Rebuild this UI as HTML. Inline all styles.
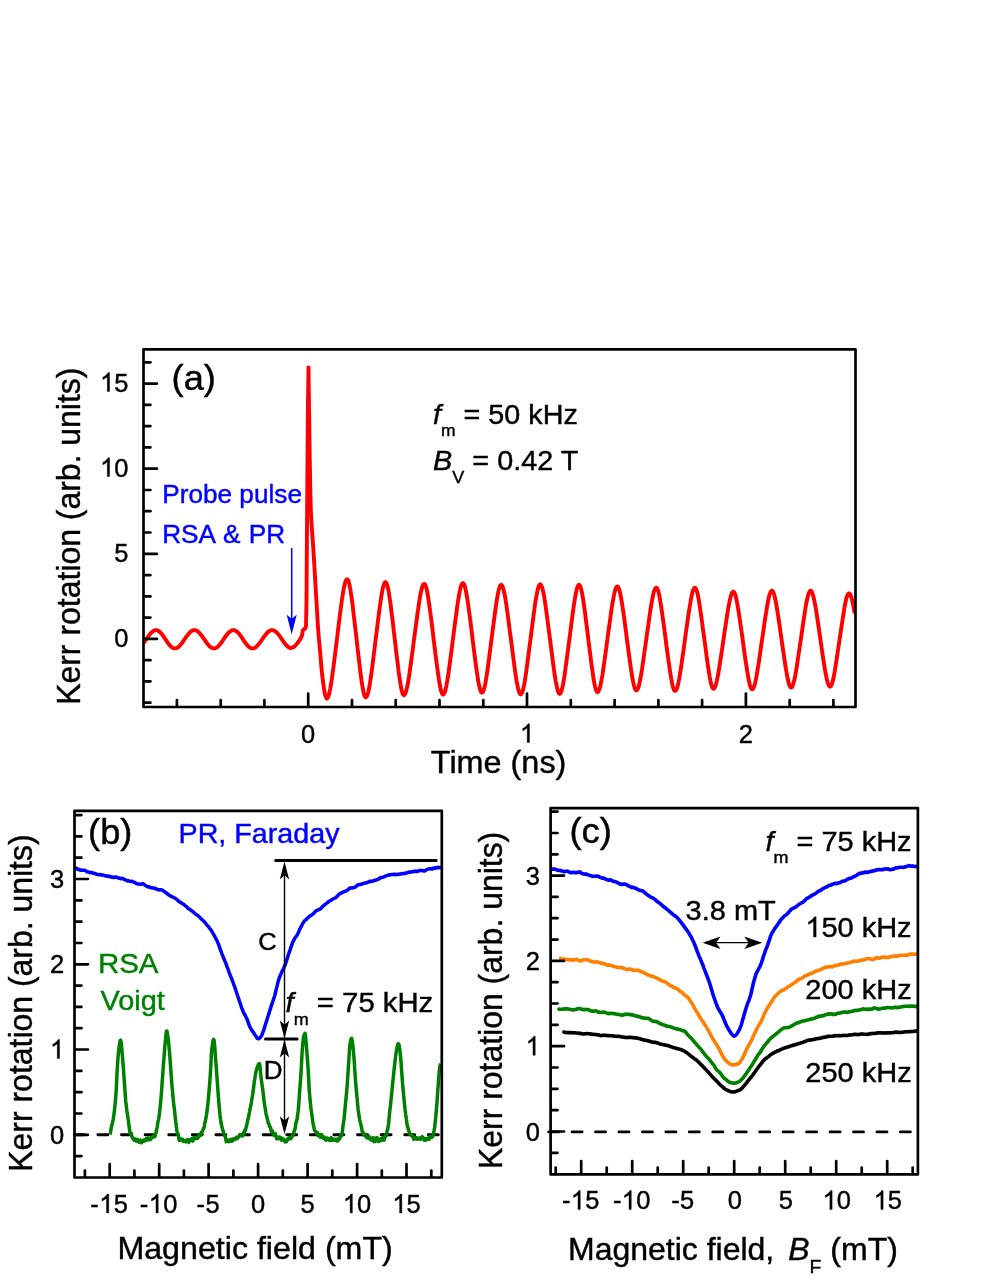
<!DOCTYPE html>
<html lang="en"><head><meta charset="utf-8"><title>Kerr rotation figure</title>
<style>html,body{margin:0;padding:0;background:#fff}body{width:992px;height:1283px;overflow:hidden;font-family:"Liberation Sans", sans-serif}svg text{font-family:"Liberation Sans", sans-serif;stroke-width:.42px}</style></head>
<body>
<svg width="992" height="1283" viewBox="0 0 992 1283" font-family='"Liberation Sans", sans-serif' style="display:block;will-change:transform">
<rect width="992" height="1283" fill="#fff"/>
<path d="M143.9 642.8 L144.7 641.6 L145.5 640.4 L146.3 639.2 L147.1 638.1 L147.9 636.9 L148.7 635.7 L149.5 634.7 L150.3 633.7 L151.2 632.8 L152 632 L152.8 631.3 L153.6 630.8 L154.4 630.4 L155.2 630.2 L156 630.1 L156.8 630.2 L157.6 630.4 L158.3 630.8 L159.1 631.3 L159.9 632 L160.7 632.8 L161.5 633.7 L162.3 634.7 L163.1 635.7 L163.8 636.9 L164.6 638.1 L165.4 639.2 L166.2 640.4 L167 641.6 L167.8 642.8 L168.5 643.8 L169.3 644.8 L170.1 645.7 L170.9 646.5 L171.7 647.2 L172.5 647.7 L173.2 648.1 L174 648.3 L174.8 648.4 L175.6 648.3 L176.4 648.1 L177.2 647.7 L178.1 647.2 L178.9 646.5 L179.7 645.7 L180.5 644.8 L181.3 643.8 L182.2 642.8 L183 641.6 L183.8 640.4 L184.6 639.2 L185.4 638.1 L186.2 636.9 L187.1 635.7 L187.9 634.7 L188.7 633.7 L189.5 632.8 L190.3 632 L191.1 631.3 L192 630.8 L192.8 630.4 L193.6 630.2 L194.4 630.1 L195.2 630.2 L196 630.4 L196.8 630.8 L197.7 631.3 L198.5 632 L199.3 632.8 L200.1 633.7 L200.9 634.7 L201.7 635.7 L202.5 636.9 L203.3 638.1 L204.2 639.2 L205 640.4 L205.8 641.6 L206.6 642.8 L207.4 643.8 L208.2 644.8 L209 645.7 L209.8 646.5 L210.7 647.2 L211.5 647.7 L212.3 648.1 L213.1 648.3 L213.9 648.4 L214.7 648.3 L215.5 648.1 L216.3 647.7 L217.2 647.2 L218 646.5 L218.8 645.7 L219.6 644.8 L220.4 643.8 L221.2 642.8 L222 641.6 L222.8 640.4 L223.7 639.2 L224.5 638.1 L225.3 636.9 L226.1 635.7 L226.9 634.7 L227.7 633.7 L228.5 632.8 L229.3 632 L230.2 631.3 L231 630.8 L231.8 630.4 L232.6 630.2 L233.4 630.1 L234.2 630.2 L235 630.4 L235.8 630.8 L236.6 631.3 L237.4 632 L238.2 632.8 L239 633.7 L239.8 634.7 L240.6 635.7 L241.4 636.9 L242.2 638.1 L242.9 639.2 L243.7 640.4 L244.5 641.6 L245.3 642.8 L246.1 643.8 L246.9 644.8 L247.7 645.7 L248.5 646.5 L249.3 647.2 L250.1 647.7 L250.9 648.1 L251.7 648.3 L252.5 648.4 L253.3 648.3 L254.1 648.1 L254.9 647.7 L255.8 647.2 L256.6 646.5 L257.4 645.7 L258.2 644.8 L259 643.8 L259.9 642.8 L260.7 641.6 L261.5 640.4 L262.3 639.2 L263.1 638.1 L263.9 636.9 L264.8 635.7 L265.6 634.7 L266.4 633.7 L267.2 632.8 L268 632 L268.8 631.3 L269.7 630.8 L270.5 630.4 L271.3 630.2 L272.1 630.1 L272.9 630.2 L273.7 630.4 L274.5 630.8 L275.3 631.3 L276.1 632 L277 632.8 L277.8 633.6 L278.6 634.6 L279.4 635.7 L280.2 636.8 L281 638 L281.8 639.2 L282.6 640.3 L283.4 641.5 L284.2 642.6 L285 643.7 L285.8 644.7 L286.6 645.5 L287.5 646.3 L288.3 647 L289.1 647.5 L289.9 647.9 L290.7 648.1 L294.5 646.6 L297.9 642.6 L300.5 638.6 L302 635.6 L302.8 630.4 L304 629.2 L305.4 628.4 L306 626 L306.5 600 L307.2 500 L307.9 410 L308.5 367.4 L308.8 391.9 L309.1 414.6 L309.4 435.8 L309.7 457.3 L310.1 477.6 L310.4 494.6 L310.7 506.5 L311 513.9 L311.3 519.8 L311.6 524.7 L311.9 528.9 L312.2 532.9 L312.5 537 L312.8 541.7 L313.2 546.6 L313.5 551.6 L313.8 556.6 L314.1 561.5 L314.4 566.5 L314.7 571.5 L315 576.6 L315.3 581.8 L315.6 587.1 L315.9 592.5 L316.3 598 L316.6 603.4 L316.9 608.8 L317.2 614 L317.5 619 L317.8 623.8 L318.1 628.4 L318.4 632.6 L318.7 636.4 L319 640.1 L319.4 643.6 L319.7 647 L320 650.4 L320.3 653.8 L320.6 657.4 L320.9 661.1 L321.2 664.7 L321.5 668.2 L321.8 671.4 L322.1 674.4 L322.5 677.2 L322.8 679.8 L323.1 682.3 L323.4 684.5 L323.7 686.7 L324 688.7 L324.3 690.7 L324.6 692.5 L324.9 694 L325.2 695.2 L325.6 696.1 L325.9 697 L326.2 697.7 L326.5 698.3 L326.8 698.6 L327.6 698 L328.5 696.1 L329.3 693.1 L330.2 689.1 L331 684.2 L331.9 678.6 L332.7 672.5 L333.6 666.1 L334.4 659.4 L335.3 652.6 L336.1 645.8 L337 638.9 L337.8 632 L338.6 625.2 L339.5 618.4 L340.3 611.7 L341.2 605.3 L342 599.2 L342.9 593.6 L343.7 588.7 L344.6 584.7 L345.4 581.7 L346.3 579.8 L347.1 579.2 L347.9 579.8 L348.7 581.6 L349.4 584.6 L350.2 588.6 L351 593.5 L351.8 599 L352.6 605 L353.3 611.4 L354.1 618 L354.9 624.7 L355.7 631.5 L356.5 638.3 L357.2 645.1 L358 651.9 L358.8 658.6 L359.6 665.2 L360.3 671.6 L361.1 677.6 L361.9 683.1 L362.7 688 L363.5 692 L364.2 695 L365 696.8 L365.8 697.4 L366.6 696.8 L367.4 695 L368.3 692.1 L369.1 688.2 L369.9 683.5 L370.7 678.1 L371.5 672.2 L372.4 666 L373.2 659.6 L374 653 L374.8 646.4 L375.6 639.8 L376.5 633.1 L377.3 626.5 L378.1 619.9 L378.9 613.5 L379.8 607.3 L380.6 601.4 L381.4 596 L382.2 591.3 L383 587.4 L383.9 584.5 L384.7 582.7 L385.5 582.1 L386.3 582.7 L387 584.4 L387.8 587.3 L388.6 591.1 L389.3 595.7 L390.1 601 L390.9 606.8 L391.6 612.9 L392.4 619.2 L393.2 625.6 L393.9 632.1 L394.7 638.6 L395.5 645.2 L396.2 651.7 L397 658.1 L397.8 664.4 L398.5 670.5 L399.3 676.3 L400.1 681.5 L400.8 686.2 L401.6 690 L402.4 692.9 L403.1 694.6 L403.9 695.2 L404.7 694.6 L405.6 692.9 L406.4 690.1 L407.3 686.3 L408.1 681.8 L409 676.5 L409.8 670.9 L410.7 664.9 L411.5 658.6 L412.4 652.3 L413.2 645.9 L414 639.5 L414.9 633.1 L415.7 626.7 L416.6 620.3 L417.4 614.1 L418.3 608.1 L419.1 602.4 L420 597.2 L420.8 592.7 L421.7 588.9 L422.5 586.1 L423.4 584.3 L424.2 583.8 L425 584.3 L425.8 586.1 L426.6 588.9 L427.4 592.6 L428.1 597.2 L428.9 602.3 L429.7 608 L430.5 613.9 L431.3 620.1 L432.1 626.4 L432.9 632.8 L433.6 639.2 L434.4 645.5 L435.2 651.9 L436 658.2 L436.8 664.4 L437.6 670.3 L438.4 676 L439.2 681.2 L439.9 685.7 L440.7 689.4 L441.5 692.2 L442.3 694 L443.1 694.6 L443.9 694 L444.8 692.2 L445.6 689.4 L446.4 685.6 L447.2 681.1 L448.1 675.9 L448.9 670.2 L449.7 664.2 L450.5 658 L451.4 651.6 L452.2 645.2 L453 638.8 L453.8 632.4 L454.6 626 L455.5 619.7 L456.3 613.5 L457.1 607.4 L457.9 601.8 L458.8 596.6 L459.6 592 L460.4 588.2 L461.2 585.4 L462.1 583.7 L462.9 583.1 L463.7 583.7 L464.5 585.4 L465.3 588.1 L466.1 591.8 L466.9 596.3 L467.7 601.5 L468.5 607 L469.3 612.9 L470.1 619.1 L470.9 625.3 L471.7 631.6 L472.4 637.9 L473.2 644.2 L474 650.5 L474.8 656.7 L475.6 662.8 L476.4 668.7 L477.2 674.3 L478 679.4 L478.8 683.9 L479.6 687.6 L480.4 690.4 L481.2 692.1 L482 692.7 L482.8 692.1 L483.6 690.4 L484.4 687.7 L485.2 684.1 L486 679.6 L486.8 674.6 L487.6 669.1 L488.4 663.3 L489.2 657.3 L490 651.1 L490.8 644.9 L491.6 638.7 L492.4 632.5 L493.2 626.3 L494 620.2 L494.8 614.2 L495.6 608.4 L496.4 602.9 L497.2 597.8 L498 593.4 L498.8 589.8 L499.6 587 L500.4 585.3 L501.2 584.8 L502 585.4 L502.8 587.1 L503.6 589.8 L504.4 593.5 L505.3 598 L506.1 603.2 L506.9 608.7 L507.7 614.6 L508.5 620.8 L509.3 627 L510.1 633.3 L511 639.6 L511.8 645.9 L512.6 652.2 L513.4 658.4 L514.2 664.5 L515 670.4 L515.8 676 L516.6 681.1 L517.5 685.6 L518.3 689.3 L519.1 692.1 L519.9 693.8 L520.7 694.4 L521.5 693.8 L522.3 692.1 L523.1 689.3 L524 685.6 L524.8 681.1 L525.6 675.9 L526.4 670.3 L527.2 664.4 L528 658.2 L528.8 652 L529.6 645.7 L530.5 639.3 L531.3 633 L532.1 626.7 L532.9 620.4 L533.7 614.3 L534.5 608.3 L535.3 602.7 L536.1 597.6 L537 593.1 L537.8 589.4 L538.6 586.6 L539.4 584.8 L540.2 584.3 L541 584.8 L541.8 586.6 L542.6 589.3 L543.5 593 L544.3 597.5 L545.1 602.6 L545.9 608.2 L546.7 614.1 L547.5 620.2 L548.3 626.5 L549.1 632.8 L550 639.1 L550.8 645.4 L551.6 651.7 L552.4 657.9 L553.2 664 L554 669.9 L554.8 675.5 L555.6 680.6 L556.5 685.1 L557.3 688.8 L558.1 691.6 L558.9 693.3 L559.7 693.9 L560.5 693.3 L561.3 691.6 L562.1 688.8 L562.9 685.1 L563.7 680.7 L564.5 675.6 L565.3 670 L566.1 664.1 L566.9 658.1 L567.7 651.9 L568.5 645.6 L569.4 639.3 L570.2 633 L571 626.8 L571.8 620.6 L572.6 614.5 L573.4 608.6 L574.2 603.1 L575 598 L575.8 593.5 L576.6 589.8 L577.4 587.1 L578.2 585.4 L579 584.8 L579.8 585.3 L580.5 587 L581.3 589.7 L582.1 593.4 L582.9 597.8 L583.6 602.8 L584.4 608.3 L585.2 614 L585.9 620 L586.7 626.1 L587.5 632.3 L588.2 638.5 L589 644.7 L589.8 650.8 L590.6 656.9 L591.3 662.9 L592.1 668.7 L592.9 674.2 L593.6 679.2 L594.4 683.6 L595.2 687.2 L596 689.9 L596.7 691.6 L597.5 692.2 L598.3 691.6 L599.1 690 L600 687.3 L600.8 683.7 L601.6 679.4 L602.5 674.5 L603.3 669.1 L604.1 663.4 L604.9 657.5 L605.8 651.5 L606.6 645.4 L607.4 639.3 L608.2 633.2 L609 627.2 L609.9 621.2 L610.7 615.3 L611.5 609.6 L612.3 604.2 L613.2 599.3 L614 594.9 L614.8 591.4 L615.6 588.7 L616.5 587 L617.3 586.5 L618.1 587 L618.9 588.7 L619.7 591.3 L620.5 594.8 L621.3 599.1 L622.1 603.9 L622.9 609.2 L623.7 614.8 L624.5 620.6 L625.3 626.5 L626.1 632.5 L626.8 638.5 L627.6 644.5 L628.4 650.4 L629.2 656.3 L630 662.1 L630.8 667.7 L631.6 673 L632.4 677.9 L633.2 682.2 L634 685.7 L634.8 688.3 L635.6 689.9 L636.4 690.5 L637.2 689.9 L638 688.3 L638.9 685.7 L639.7 682.2 L640.5 678 L641.4 673.2 L642.2 668 L643 662.5 L643.8 656.7 L644.6 650.9 L645.5 645 L646.3 639.1 L647.1 633.2 L648 627.3 L648.8 621.4 L649.6 615.7 L650.4 610.1 L651.2 604.9 L652.1 600.1 L652.9 595.9 L653.7 592.4 L654.6 589.8 L655.4 588.2 L656.2 587.7 L657 588.2 L657.8 589.8 L658.6 592.4 L659.4 595.9 L660.1 600.2 L660.9 605 L661.7 610.3 L662.5 615.8 L663.3 621.6 L664.1 627.5 L664.9 633.4 L665.7 639.3 L666.4 645.3 L667.2 651.2 L668 657.1 L668.8 662.8 L669.6 668.4 L670.4 673.7 L671.2 678.5 L672 682.7 L672.7 686.2 L673.5 688.8 L674.3 690.4 L675.1 691 L675.9 690.4 L676.8 688.8 L677.6 686.2 L678.4 682.7 L679.2 678.5 L680 673.7 L680.9 668.4 L681.7 662.8 L682.5 657.1 L683.4 651.2 L684.2 645.3 L685 639.3 L685.8 633.4 L686.6 627.5 L687.5 621.6 L688.3 615.8 L689.1 610.3 L690 605 L690.8 600.2 L691.6 595.9 L692.4 592.4 L693.2 589.8 L694.1 588.2 L694.9 587.7 L695.7 588.2 L696.4 589.8 L697.2 592.3 L698 595.8 L698.8 599.9 L699.5 604.6 L700.3 609.8 L701.1 615.2 L701.9 620.9 L702.6 626.6 L703.4 632.4 L704.2 638.2 L705 644 L705.8 649.8 L706.5 655.6 L707.3 661.2 L708.1 666.7 L708.9 671.8 L709.6 676.5 L710.4 680.7 L711.2 684.1 L712 686.7 L712.7 688.2 L713.5 688.8 L714.3 688.3 L715.1 686.7 L716 684.3 L716.8 681 L717.6 677 L718.5 672.5 L719.3 667.5 L720.1 662.3 L720.9 656.9 L721.8 651.3 L722.6 645.8 L723.4 640.2 L724.2 634.6 L725 629 L725.9 623.5 L726.7 618.1 L727.5 612.8 L728.3 607.9 L729.2 603.3 L730 599.4 L730.8 596.1 L731.6 593.6 L732.5 592.1 L733.3 591.6 L734.1 592.1 L734.9 593.6 L735.7 596.1 L736.4 599.4 L737.2 603.4 L738 608 L738.8 612.9 L739.6 618.2 L740.4 623.7 L741.2 629.2 L742 634.8 L742.8 640.4 L743.5 646.1 L744.3 651.7 L745.1 657.2 L745.9 662.7 L746.7 667.9 L747.5 672.9 L748.3 677.5 L749.1 681.5 L749.8 684.8 L750.6 687.2 L751.4 688.8 L752.2 689.3 L753 688.8 L753.8 687.2 L754.7 684.7 L755.5 681.4 L756.3 677.3 L757.1 672.7 L757.9 667.7 L758.8 662.4 L759.6 656.9 L760.4 651.3 L761.2 645.6 L762 639.9 L762.9 634.2 L763.7 628.6 L764.5 623 L765.3 617.5 L766.2 612.1 L767 607.1 L767.8 602.5 L768.6 598.5 L769.4 595.1 L770.3 592.6 L771.1 591.1 L771.9 590.6 L772.7 591.1 L773.5 592.6 L774.3 595 L775.1 598.3 L775.9 602.3 L776.7 606.8 L777.5 611.8 L778.3 617 L779.1 622.4 L779.9 627.9 L780.7 633.5 L781.5 639.1 L782.3 644.7 L783.1 650.2 L783.9 655.7 L784.7 661.1 L785.5 666.4 L786.3 671.3 L787.1 675.8 L787.9 679.8 L788.7 683.1 L789.5 685.5 L790.3 687.1 L791.1 687.6 L791.9 687.1 L792.7 685.5 L793.5 683.1 L794.4 679.8 L795.2 675.8 L796 671.3 L796.8 666.4 L797.6 661.1 L798.4 655.7 L799.2 650.2 L800 644.7 L800.9 639.1 L801.7 633.5 L802.5 627.9 L803.3 622.4 L804.1 617 L804.9 611.8 L805.7 606.8 L806.5 602.3 L807.4 598.3 L808.2 595 L809 592.6 L809.8 591.1 L810.6 590.6 L811.4 591.1 L812.2 592.6 L813 595 L813.8 598.3 L814.6 602.2 L815.5 606.7 L816.3 611.6 L817.1 616.8 L817.9 622.1 L818.7 627.6 L819.5 633.1 L820.3 638.6 L821.1 644.2 L821.9 649.7 L822.7 655.2 L823.5 660.5 L824.3 665.7 L825.1 670.6 L826 675.1 L826.8 679 L827.6 682.3 L828.4 684.7 L829.2 686.2 L830 686.7 L830.8 686.2 L831.6 684.8 L832.4 682.4 L833.2 679.3 L834 675.4 L834.8 671.1 L835.5 666.3 L836.3 661.3 L837.1 656.1 L837.9 650.7 L838.7 645.4 L839.5 640 L840.3 634.6 L841.1 629.3 L841.9 624 L842.7 618.7 L843.5 613.7 L844.2 609 L845 604.6 L845.8 600.8 L846.6 597.6 L847.4 595.2 L848.2 593.8 L849 593.3 L849.8 593.8 L850.6 595.2 L851.4 597.5 L852.2 600.6 L853 604.4 L853.8 608.6 L854.6 613.3" fill="none" stroke="#ff0000" stroke-width="3.9" stroke-linejoin="round" stroke-linecap="butt"/>
<line x1="144.4" y1="702.7" x2="150.4" y2="702.7" stroke="#000" stroke-width="2.7" stroke-linecap="round"/>
<line x1="144.4" y1="681.4" x2="150.4" y2="681.4" stroke="#000" stroke-width="2.7" stroke-linecap="round"/>
<line x1="144.4" y1="660.2" x2="150.4" y2="660.2" stroke="#000" stroke-width="2.7" stroke-linecap="round"/>
<line x1="144.4" y1="638.9" x2="156.9" y2="638.9" stroke="#000" stroke-width="2.7" stroke-linecap="round"/>
<line x1="144.4" y1="617.6" x2="150.4" y2="617.6" stroke="#000" stroke-width="2.7" stroke-linecap="round"/>
<line x1="144.4" y1="596.4" x2="150.4" y2="596.4" stroke="#000" stroke-width="2.7" stroke-linecap="round"/>
<line x1="144.4" y1="575.1" x2="150.4" y2="575.1" stroke="#000" stroke-width="2.7" stroke-linecap="round"/>
<line x1="144.4" y1="553.8" x2="156.9" y2="553.8" stroke="#000" stroke-width="2.7" stroke-linecap="round"/>
<line x1="144.4" y1="532.5" x2="150.4" y2="532.5" stroke="#000" stroke-width="2.7" stroke-linecap="round"/>
<line x1="144.4" y1="511.2" x2="150.4" y2="511.2" stroke="#000" stroke-width="2.7" stroke-linecap="round"/>
<line x1="144.4" y1="490" x2="150.4" y2="490" stroke="#000" stroke-width="2.7" stroke-linecap="round"/>
<line x1="144.4" y1="468.7" x2="156.9" y2="468.7" stroke="#000" stroke-width="2.7" stroke-linecap="round"/>
<line x1="144.4" y1="447.4" x2="150.4" y2="447.4" stroke="#000" stroke-width="2.7" stroke-linecap="round"/>
<line x1="144.4" y1="426.1" x2="150.4" y2="426.1" stroke="#000" stroke-width="2.7" stroke-linecap="round"/>
<line x1="144.4" y1="404.9" x2="150.4" y2="404.9" stroke="#000" stroke-width="2.7" stroke-linecap="round"/>
<line x1="144.4" y1="383.6" x2="156.9" y2="383.6" stroke="#000" stroke-width="2.7" stroke-linecap="round"/>
<line x1="144.4" y1="362.3" x2="150.4" y2="362.3" stroke="#000" stroke-width="2.7" stroke-linecap="round"/>
<line x1="176.9" y1="706.1" x2="176.9" y2="700.1" stroke="#000" stroke-width="2.7" stroke-linecap="round"/>
<line x1="220.7" y1="706.1" x2="220.7" y2="700.1" stroke="#000" stroke-width="2.7" stroke-linecap="round"/>
<line x1="264.4" y1="706.1" x2="264.4" y2="700.1" stroke="#000" stroke-width="2.7" stroke-linecap="round"/>
<line x1="308.2" y1="706.1" x2="308.2" y2="693.6" stroke="#000" stroke-width="2.7" stroke-linecap="round"/>
<line x1="352" y1="706.1" x2="352" y2="700.1" stroke="#000" stroke-width="2.7" stroke-linecap="round"/>
<line x1="395.7" y1="706.1" x2="395.7" y2="700.1" stroke="#000" stroke-width="2.7" stroke-linecap="round"/>
<line x1="439.5" y1="706.1" x2="439.5" y2="700.1" stroke="#000" stroke-width="2.7" stroke-linecap="round"/>
<line x1="483.3" y1="706.1" x2="483.3" y2="700.1" stroke="#000" stroke-width="2.7" stroke-linecap="round"/>
<line x1="527" y1="706.1" x2="527" y2="693.6" stroke="#000" stroke-width="2.7" stroke-linecap="round"/>
<line x1="570.8" y1="706.1" x2="570.8" y2="700.1" stroke="#000" stroke-width="2.7" stroke-linecap="round"/>
<line x1="614.6" y1="706.1" x2="614.6" y2="700.1" stroke="#000" stroke-width="2.7" stroke-linecap="round"/>
<line x1="658.4" y1="706.1" x2="658.4" y2="700.1" stroke="#000" stroke-width="2.7" stroke-linecap="round"/>
<line x1="702.1" y1="706.1" x2="702.1" y2="700.1" stroke="#000" stroke-width="2.7" stroke-linecap="round"/>
<line x1="745.9" y1="706.1" x2="745.9" y2="693.6" stroke="#000" stroke-width="2.7" stroke-linecap="round"/>
<line x1="789.7" y1="706.1" x2="789.7" y2="700.1" stroke="#000" stroke-width="2.7" stroke-linecap="round"/>
<line x1="833.4" y1="706.1" x2="833.4" y2="700.1" stroke="#000" stroke-width="2.7" stroke-linecap="round"/>
<rect x="143.5" y="349.4" width="712" height="357.6" fill="none" stroke="#000" stroke-width="2.7" stroke-linejoin="round"/>
<text transform="translate(114.2 646.8) scale(0.97 1)" font-size="26.29" stroke="#000">0</text>
<text transform="translate(114.2 561.7) scale(0.97 1)" font-size="26.29" stroke="#000">5</text>
<path transform="translate(100.04 476.6) scale(0.01245 -0.01284)" d="M763 0L583 0L583 1147Q518 1085 412.5 1023Q307 961 223 930L223 1104Q374 1175 487 1276Q600 1377 647 1472L763 1472Z" stroke="#000" stroke-width="33"/>
<text transform="translate(114.2 476.6) scale(0.97 1)" font-size="26.29" stroke="#000">0</text>
<path transform="translate(100.04 391.5) scale(0.01245 -0.01284)" d="M763 0L583 0L583 1147Q518 1085 412.5 1023Q307 961 223 930L223 1104Q374 1175 487 1276Q600 1377 647 1472L763 1472Z" stroke="#000" stroke-width="33"/>
<text transform="translate(114.2 391.5) scale(0.97 1)" font-size="26.29" stroke="#000">5</text>
<text transform="translate(301.1 742.6) scale(0.97 1)" font-size="26.29" stroke="#000">0</text>
<path transform="translate(519.96 742.6) scale(0.01245 -0.01284)" d="M763 0L583 0L583 1147Q518 1085 412.5 1023Q307 961 223 930L223 1104Q374 1175 487 1276Q600 1377 647 1472L763 1472Z" stroke="#000" stroke-width="33"/>
<text transform="translate(738.8 742.6) scale(0.97 1)" font-size="26.29" stroke="#000">2</text>
<text transform="translate(498.6 773.1) scale(1.035 1)" font-size="31.30" text-anchor="middle" fill="#000" stroke="#000">Time (ns)</text>
<text transform="translate(80.4 536.2) rotate(-90) scale(0.954 1)" font-size="33.5" text-anchor="middle" stroke="#000">Kerr rotation (arb. units)</text>
<text transform="translate(171.6 389.9) scale(1.05 1)" font-size="34.48" text-anchor="start" fill="#000" stroke="#000">(a)</text>
<text transform="translate(162.2 503.2) scale(1.035 1)" font-size="25.31" text-anchor="start" fill="#0000ff" stroke="#0000ff">Probe pulse</text>
<text transform="translate(162.2 543.3) scale(1.035 1)" font-size="25.31" text-anchor="start" fill="#0000ff" stroke="#0000ff" word-spacing="1">RSA &amp; PR</text>
<line x1="291.7" y1="548" x2="291.7" y2="620" stroke="#0000ff" stroke-width="1.5"/>
<polygon points="291.7,634.4 286.7,614.8 291.7,618.8 296.7,614.8" fill="#0000ff"/>
<text transform="translate(433 424) scale(1.035 1)" font-size="27.78" stroke="#000"><tspan font-style="italic">f</tspan><tspan font-size="16.9" dy="12.3">m</tspan><tspan dy="-12.3"> = 50 kHz</tspan></text>
<text transform="translate(433.1 470.2) scale(1.035 1)" font-size="27.83" stroke="#000"><tspan font-style="italic">B</tspan><tspan font-size="17.4" dy="12.4">V</tspan><tspan dy="-12.4"> = 0.42 T</tspan></text>
<path d="M74.3 1134.8 H441" stroke="#000" stroke-width="2.9" stroke-linecap="round" stroke-dasharray="10 13.6" fill="none"/>
<path d="M75 867.3 L75.7 867.8 L76.5 868.4 L77.2 869 L77.9 869.4 L78.7 869.2 L79.4 869.6 L80.1 870.2 L80.9 870.1 L81.6 870.3 L82.3 870.1 L83.1 870.3 L83.8 870.2 L84.5 870.2 L85.3 870.5 L86 870.9 L86.8 871.5 L87.5 872 L88.2 872 L89 872.1 L89.7 872.6 L90.4 872.7 L91.2 872.5 L91.9 872.5 L92.6 873 L93.4 873.1 L94.1 873.4 L94.8 873.4 L95.6 873.8 L96.3 874.2 L97 874.4 L97.8 874.7 L98.5 874.5 L99.2 874.8 L100 874.6 L100.7 874.6 L101.4 875.1 L102.2 874.9 L102.9 875.1 L103.6 875.2 L104.4 875.4 L105.1 876 L105.8 875.9 L106.6 876.1 L107.3 876 L108.1 876.3 L108.8 876.5 L109.5 876.3 L110.3 876.3 L111 876.8 L111.7 877.3 L112.5 877.1 L113.2 877.4 L113.9 877.3 L114.7 877.5 L115.4 877.2 L116.1 877 L116.9 877.2 L117.6 877.6 L118.3 878.1 L119.1 878 L119.8 878.2 L120.5 878.7 L121.3 878.5 L122 878.4 L122.7 878.3 L123.5 879.1 L124.2 879.6 L124.9 879.6 L125.7 880.1 L126.4 880.4 L127.1 880.9 L127.9 880.8 L128.6 880.8 L129.4 881.1 L130.1 881.4 L130.8 881.6 L131.6 881.2 L132.3 881.5 L133 881.7 L133.8 882.1 L134.5 882.4 L135.2 882.7 L136 883.3 L136.7 883.4 L137.4 884 L138.2 883.9 L138.9 884.1 L139.6 884.1 L140.4 884.3 L141.1 884.2 L141.8 883.8 L142.6 883.9 L143.3 883.8 L144 884.4 L144.8 885 L145.5 885.4 L146.2 886 L147 886.3 L147.7 886.8 L148.4 887 L149.2 886.7 L149.9 887.3 L150.7 887.7 L151.4 887.7 L152.1 887.8 L152.9 888.1 L153.6 888.1 L154.3 888.2 L155.1 888.2 L155.8 888.8 L156.5 889.1 L157.3 889.3 L158 889.7 L158.7 889.8 L159.5 889.9 L160.2 889.7 L160.9 890 L161.7 889.8 L162.4 890.4 L163.1 890.4 L163.9 891.3 L164.6 891.7 L165.3 892.2 L166.1 893 L166.8 893 L167.5 894 L168.3 894.5 L169 895.1 L169.7 895.4 L170.5 895.8 L171.2 896.4 L171.9 896.8 L172.7 896.9 L173.4 897.4 L174.2 897.8 L174.9 898.2 L175.6 898.6 L176.4 899.2 L177.1 899.7 L177.8 900.4 L178.6 901.1 L179.3 901.6 L180 902.3 L180.8 902.5 L181.5 903.1 L182.2 903.4 L183 903.9 L183.7 904.3 L184.4 904.8 L185.2 905.8 L185.9 906.2 L186.6 906.7 L187.4 907.4 L188.1 908.4 L188.8 908.9 L189.6 909.2 L190.3 909.8 L191 910.2 L191.8 910.9 L192.5 911.2 L193.2 912.1 L194 912.5 L194.7 913.3 L195.5 914.1 L196.2 914.5 L196.9 914.9 L197.7 915.3 L198.4 916.3 L199.1 916.7 L199.9 917.5 L200.6 918.2 L201.3 918.9 L202.1 919.7 L202.8 920.3 L203.5 921 L204.3 921.7 L205 922.5 L205.7 923.5 L206.5 924.5 L207.2 925.3 L207.9 926.1 L208.7 926.9 L209.4 928 L210.1 928.9 L210.9 929.8 L211.6 930.9 L212.3 932.2 L213.1 933.6 L213.8 934.8 L214.5 935.9 L215.3 937.5 L216 938.8 L216.8 940.3 L217.5 941.9 L218.2 943.6 L219 945.6 L219.7 947.6 L220.4 949.8 L221.2 951.7 L221.9 953.8 L222.6 955.6 L223.4 957.3 L224.1 959.1 L224.8 960.9 L225.6 962.7 L226.3 964.5 L227 966.6 L227.8 968.6 L228.5 970.5 L229.2 972.6 L230 974.6 L230.7 976.5 L231.4 978.3 L232.2 980.1 L232.9 982 L233.6 984 L234.4 986.1 L235.1 988.1 L235.8 990.2 L236.6 992.5 L237.3 994.7 L238.1 997 L238.8 999.1 L239.5 1001.3 L240.3 1003.5 L241 1005.8 L241.7 1007.8 L242.5 1009.8 L243.2 1011.6 L243.9 1013.2 L244.7 1014.5 L245.4 1015.6 L246.1 1017.2 L246.9 1018.7 L247.6 1020.6 L248.3 1022.6 L249.1 1024.9 L249.8 1026.8 L250.5 1028.2 L251.3 1029.5 L252 1030.6 L252.7 1031.5 L253.5 1032.4 L254.2 1033.6 L254.9 1034.9 L255.7 1035.8 L256.4 1036.7 L257.1 1038.1 L257.9 1038.8 L258.6 1038.7 L259.4 1038.2 L260.1 1037.6 L260.8 1036.9 L261.6 1035.6 L262.3 1034.1 L263 1032 L263.8 1029.8 L264.5 1027.6 L265.2 1025.3 L266 1022.9 L266.7 1020.6 L267.4 1018.3 L268.2 1015.8 L268.9 1013.6 L269.6 1011.3 L270.4 1008.9 L271.1 1006.6 L271.8 1004.3 L272.6 1002.1 L273.3 1000 L274 997.8 L274.8 995.5 L275.5 992.5 L276.2 989.4 L277 986.4 L277.7 983.4 L278.4 980.6 L279.2 978.2 L279.9 976.3 L280.7 974.5 L281.4 972.9 L282.1 971.2 L282.9 969.9 L283.6 968.6 L284.3 966.8 L285.1 964.9 L285.8 962.8 L286.5 960.7 L287.3 958.4 L288 956.1 L288.7 953.8 L289.5 951.7 L290.2 949.6 L290.9 947.4 L291.7 945.2 L292.4 943.2 L293.1 941.5 L293.9 939.9 L294.6 938.6 L295.3 937.5 L296.1 936.5 L296.8 935.5 L297.5 934.3 L298.3 932.8 L299 931.1 L299.7 929.4 L300.5 927.9 L301.2 926.3 L302 924.9 L302.7 923.6 L303.4 922.6 L304.2 921.5 L304.9 920.5 L305.6 920.1 L306.4 919.3 L307.1 918.6 L307.8 917.8 L308.6 917.3 L309.3 916.4 L310 915.7 L310.8 915.6 L311.5 915.1 L312.2 914.5 L313 913.8 L313.7 913.4 L314.4 912.6 L315.2 911.4 L315.9 911.1 L316.6 910.4 L317.4 910.2 L318.1 909.9 L318.8 909.6 L319.6 909.3 L320.3 908.8 L321 908.4 L321.8 907.5 L322.5 906.5 L323.3 905.9 L324 905.5 L324.7 904.7 L325.5 904.1 L326.2 903.5 L326.9 903.1 L327.7 902.6 L328.4 901.8 L329.1 901.1 L329.9 900.9 L330.6 900.5 L331.3 900.1 L332.1 899.6 L332.8 899.1 L333.5 898.6 L334.3 898.4 L335 898.1 L335.7 897.7 L336.5 896.8 L337.2 896.4 L337.9 895.5 L338.7 894.4 L339.4 894 L340.1 893.6 L340.9 893.5 L341.6 892.6 L342.3 892.5 L343.1 892.2 L343.8 891.7 L344.6 891.6 L345.3 891.2 L346 891 L346.8 890.5 L347.5 890.2 L348.2 889.7 L349 888.6 L349.7 888.3 L350.4 887.8 L351.2 888 L351.9 887.9 L352.6 887.8 L353.4 887.7 L354.1 887.5 L354.8 887.4 L355.6 886.8 L356.3 886.2 L357 885.5 L357.8 885 L358.5 884.8 L359.2 884.5 L360 884.4 L360.7 884.4 L361.4 884.1 L362.2 884 L362.9 883.6 L363.6 883.5 L364.4 883.1 L365.1 882.9 L365.8 883.1 L366.6 882.8 L367.3 882.3 L368.1 882.1 L368.8 882.1 L369.5 881.2 L370.3 881.2 L371 881.4 L371.7 881.6 L372.5 881.1 L373.2 880.7 L373.9 880.6 L374.7 880.7 L375.4 880.2 L376.1 880 L376.9 879.7 L377.6 879.6 L378.3 879.2 L379.1 878.4 L379.8 878.4 L380.5 877.5 L381.3 877.6 L382 877.4 L382.7 877.3 L383.5 877.1 L384.2 876.6 L384.9 876.6 L385.7 876.1 L386.4 875.6 L387.1 875.6 L387.9 875.3 L388.6 874.9 L389.4 874.8 L390.1 874.9 L390.8 874.6 L391.6 874.6 L392.3 874.5 L393 874.5 L393.8 874.5 L394.5 874.1 L395.2 874.7 L396 874.4 L396.7 874.6 L397.4 874.6 L398.2 874.2 L398.9 874.3 L399.6 873.9 L400.4 874.1 L401.1 873.9 L401.8 873.7 L402.6 873.7 L403.3 873.5 L404 873.7 L404.8 873.3 L405.5 873.2 L406.2 873 L407 873 L407.7 872.7 L408.4 872 L409.2 872.1 L409.9 872.2 L410.7 872.2 L411.4 871.7 L412.1 871.7 L412.9 871.7 L413.6 871.7 L414.3 871.1 L415.1 871.2 L415.8 871.4 L416.5 871.3 L417.3 871.5 L418 871.1 L418.7 870.9 L419.5 870.5 L420.2 870.7 L420.9 870.6 L421.7 870.5 L422.4 870.5 L423.1 870.7 L423.9 871 L424.6 870.9 L425.3 870.6 L426.1 870 L426.8 869.7 L427.5 869.2 L428.3 869.2 L429 868.9 L429.7 868.8 L430.5 868.7 L431.2 868.7 L432 869.2 L432.7 868.3 L433.4 868.1 L434.2 867.9 L434.9 868.4 L435.6 868.1 L436.4 867.6 L437.1 867.8 L437.8 867.3 L438.6 867.7 L439.3 867.6 L440 867.6 L440.8 867.4 L441.5 867.2" fill="none" stroke="#0000ff" stroke-width="3.5" stroke-linejoin="round"/>
<path d="M110.1 1134.5 L110.4 1133.3 L110.7 1131.1 L111 1129.1 L111.3 1127.6 L111.6 1126.3 L111.9 1125 L112.2 1123.5 L112.5 1122.7 L112.8 1121.2 L113.1 1120.1 L113.4 1118.1 L113.7 1116.1 L114 1113.7 L114.3 1111.4 L114.6 1108.9 L114.9 1106.3 L115.2 1103.2 L115.5 1099.7 L115.8 1095.9 L116.1 1091.8 L116.4 1087 L116.7 1080.4 L117 1073.7 L117.3 1068.5 L117.6 1063.7 L117.9 1059.4 L118.2 1055.3 L118.5 1051.9 L118.8 1049.2 L119.1 1046.9 L119.4 1044.7 L119.7 1043 L120 1041.4 L120.3 1040.5 L120.6 1040.2 L120.9 1041.1 L121.2 1042.8 L121.5 1045.5 L121.8 1048.6 L122.1 1052.3 L122.4 1056 L122.7 1059.8 L123 1063.3 L123.3 1067.2 L123.6 1071.3 L123.9 1075.6 L124.2 1080 L124.5 1084.2 L124.8 1088.3 L125.1 1092.7 L125.4 1096.8 L125.7 1100.7 L126 1103.6 L126.3 1106.1 L126.6 1108.6 L126.9 1111 L127.2 1113.1 L127.5 1115 L127.8 1116.7 L128.1 1119 L128.4 1120.5 L128.7 1123.3 L129 1125.6 L129.3 1127.9 L129.6 1129.9 L129.9 1132.3 L130.2 1133.5 L130.5 1133.5 L130.9 1133 L131.2 1133.5 L131.5 1134.6 L131.8 1136.1 L132.1 1137.1 L132.4 1137.9 L132.7 1137.8 L133 1138.1 L133.3 1138.3 L133.6 1139.3 L133.9 1140.1 L134.2 1140.2 L134.5 1140 L134.8 1139.9 L135.1 1139.4 L135.4 1139 L135.7 1139.3 L136 1140 L136.3 1141.1 L136.6 1140.2 L136.9 1140.2 L137.2 1139.9 L137.5 1140.4 L137.8 1139.6 L138.1 1139.8 L138.4 1140.7 L138.7 1142.1 L139 1141.9 L139.3 1141.5 L139.6 1141.6 L139.9 1140.5 L140.2 1140.4 L140.5 1140.2 L140.8 1141.8 L141.1 1142.6 L141.4 1142.7 L141.7 1142.4 L142 1141.6 L142.3 1141.2 L142.6 1140.7 L142.9 1140.4 L143.2 1140.3 L143.5 1141.4 L143.8 1141.2 L144.1 1140.6 L144.4 1139.7 L144.7 1140.3 L145 1140.3 L145.3 1140.8 L145.6 1139.6 L145.9 1139.5 L146.2 1138.6 L146.5 1139.5 L146.8 1140 L147.1 1139.3 L147.4 1138.5 L147.7 1138.1 L148 1138.4 L148.3 1138.1 L148.6 1138.4 L148.9 1138.9 L149.2 1139.9 L149.5 1139.1 L149.8 1139.3 L150.1 1138.8 L150.4 1139.5 L150.7 1138.5 L151 1138.1 L151.3 1137.5 L151.6 1137.4 L151.9 1137.9 L152.2 1137.7 L152.5 1137.3 L152.8 1136.7 L153.1 1136.1 L153.4 1136.6 L153.7 1135.9 L154 1135.4 L154.3 1135.1 L154.6 1136 L154.9 1136.6 L155.2 1135.5 L155.5 1133.9 L155.8 1133.1 L156.1 1132.2 L156.4 1130.7 L156.7 1128.9 L157 1127.9 L157.3 1126.5 L157.6 1124.3 L157.9 1122.1 L158.2 1121 L158.5 1119.6 L158.8 1118 L159.1 1115.8 L159.4 1113.8 L159.7 1111.3 L160 1108.7 L160.3 1105.7 L160.6 1102.7 L160.9 1099.4 L161.2 1095.9 L161.5 1091.9 L161.8 1087.6 L162.1 1083.1 L162.4 1078.9 L162.7 1075 L163 1070.7 L163.3 1066.5 L163.6 1062.4 L163.9 1058.9 L164.2 1055.1 L164.5 1051 L164.8 1046.8 L165.1 1043.4 L165.4 1040.3 L165.7 1037.2 L166 1034.1 L166.3 1031.9 L166.6 1030.9 L166.9 1030.9 L167.2 1032.1 L167.5 1033.8 L167.8 1036 L168.1 1038.4 L168.4 1040.7 L168.7 1043.7 L169 1046.6 L169.3 1050 L169.6 1053.2 L169.9 1057 L170.2 1061.1 L170.5 1065.5 L170.8 1069.7 L171.1 1074 L171.4 1078.2 L171.7 1082.4 L172 1086.2 L172.4 1090.2 L172.7 1093.6 L173 1097.2 L173.3 1100.2 L173.6 1103.1 L173.9 1105.5 L174.2 1107.8 L174.5 1110.2 L174.8 1113 L175.1 1116 L175.4 1118.5 L175.7 1121.5 L176 1123.5 L176.3 1126.7 L176.6 1128.6 L176.9 1130.8 L177.2 1132 L177.5 1133 L177.8 1133.9 L178.1 1134.1 L178.4 1135.2 L178.7 1137.1 L179 1139.4 L179.3 1140.4 L179.6 1140.1 L179.9 1139.1 L180.2 1139.4 L180.5 1139.3 L180.8 1139.8 L181.1 1139.1 L181.4 1139.4 L181.7 1139.4 L182 1139.7 L182.3 1139.2 L182.6 1139.4 L182.9 1140.7 L183.2 1141.3 L183.5 1141.5 L183.8 1140.7 L184.1 1141.1 L184.4 1140.7 L184.7 1140.4 L185 1140.5 L185.3 1141.3 L185.6 1141.5 L185.9 1141.8 L186.2 1141.4 L186.5 1141.4 L186.8 1140.4 L187.1 1141.5 L187.4 1140.5 L187.7 1140.5 L188 1139.5 L188.3 1140.8 L188.6 1141.5 L188.9 1142.4 L189.2 1141.3 L189.5 1141.4 L189.8 1140.5 L190.1 1140.9 L190.4 1140.7 L190.7 1140.3 L191 1139.5 L191.3 1138.9 L191.6 1138.5 L191.9 1139.1 L192.2 1139.3 L192.5 1140.1 L192.8 1141 L193.1 1140.6 L193.4 1139.5 L193.7 1138.1 L194 1137.6 L194.3 1137.6 L194.6 1138 L194.9 1137.9 L195.2 1137.4 L195.5 1137.4 L195.8 1137.5 L196.1 1138.5 L196.4 1138.1 L196.7 1138.3 L197 1138 L197.3 1138.4 L197.6 1138.1 L197.9 1138.1 L198.2 1137.5 L198.5 1136.4 L198.8 1135.9 L199.1 1135.3 L199.4 1135.9 L199.7 1135.1 L200 1135.8 L200.3 1135.4 L200.6 1135.2 L200.9 1133.2 L201.2 1132.6 L201.5 1132.7 L201.8 1132.6 L202.1 1132.1 L202.4 1131.1 L202.7 1130.8 L203 1129.6 L203.3 1128.9 L203.6 1128.1 L203.9 1128.3 L204.2 1126.9 L204.5 1125.2 L204.8 1122.8 L205.1 1122.2 L205.4 1120.6 L205.7 1119.2 L206 1117.4 L206.3 1115.8 L206.6 1113.9 L206.9 1111.9 L207.2 1109.7 L207.5 1107.2 L207.8 1104.4 L208.1 1101.6 L208.4 1098.5 L208.7 1094.9 L209 1091.3 L209.3 1087.9 L209.6 1084.4 L209.9 1080.5 L210.2 1076 L210.5 1071.5 L210.8 1066.1 L211.1 1059.6 L211.4 1053.5 L211.7 1049.9 L212 1047.5 L212.3 1045.4 L212.6 1043 L212.9 1041.4 L213.2 1040 L213.6 1039.4 L213.9 1039.7 L214.2 1041.5 L214.5 1044.3 L214.8 1047.6 L215.1 1051.7 L215.4 1056.2 L215.7 1060.1 L216 1063.6 L216.3 1067.4 L216.6 1071.6 L216.9 1076.1 L217.2 1080.4 L217.5 1084.6 L217.8 1089 L218.1 1092.9 L218.4 1097 L218.7 1100.9 L219 1104.6 L219.3 1107.9 L219.6 1110.9 L219.9 1114.2 L220.2 1116.8 L220.5 1119.3 L220.8 1120.9 L221.1 1123.2 L221.4 1124.7 L221.7 1126.1 L222 1127.1 L222.3 1128.5 L222.6 1129.5 L222.9 1130.2 L223.2 1131.1 L223.5 1132.5 L223.8 1133.4 L224.1 1134.1 L224.4 1134.8 L224.7 1135.5 L225 1136.5 L225.3 1136.4 L225.6 1138.1 L225.9 1139.7 L226.2 1141.7 L226.5 1141.4 L226.8 1140.9 L227.1 1140.1 L227.4 1140.4 L227.7 1140.9 L228 1140.3 L228.3 1140.9 L228.6 1140.2 L228.9 1141.6 L229.2 1141.2 L229.5 1141 L229.8 1140.5 L230.1 1140.8 L230.4 1141.1 L230.7 1141.2 L231 1140.6 L231.3 1139.4 L231.6 1139.5 L231.9 1140 L232.2 1141.1 L232.5 1140.5 L232.8 1140.6 L233.1 1140.1 L233.4 1139.6 L233.7 1138.8 L234 1139.5 L234.3 1138.9 L234.6 1139.5 L234.9 1138.4 L235.2 1138.4 L235.5 1138.3 L235.8 1138.4 L236.1 1138.1 L236.4 1137.2 L236.7 1137.5 L237 1138.6 L237.3 1138.4 L237.6 1138 L237.9 1137.6 L238.2 1137.3 L238.5 1137.1 L238.8 1136.5 L239.1 1136.4 L239.4 1135.7 L239.7 1135.6 L240 1135.7 L240.3 1135.4 L240.6 1134.9 L240.9 1135.3 L241.2 1135.4 L241.5 1135.8 L241.8 1135.7 L242.1 1135.6 L242.4 1136 L242.7 1134.7 L243 1134.6 L243.3 1133 L243.6 1133.9 L243.9 1134 L244.2 1132.8 L244.5 1131.1 L244.8 1130.1 L245.1 1130.6 L245.4 1130.5 L245.7 1129.2 L246 1128 L246.3 1126.8 L246.6 1125.6 L246.9 1124.6 L247.2 1122.4 L247.5 1121.4 L247.8 1119.6 L248.1 1119.2 L248.4 1117.6 L248.7 1116.2 L249 1114.7 L249.3 1113 L249.6 1111.5 L249.9 1109.7 L250.2 1108.3 L250.5 1106.8 L250.8 1105.5 L251.1 1103.8 L251.4 1102.2 L251.7 1100.3 L252 1098.5 L252.3 1096.5 L252.6 1094.8 L252.9 1092.8 L253.2 1090.6 L253.5 1088.3 L253.8 1085.9 L254.1 1083.3 L254.4 1081 L254.8 1078.7 L255.1 1076.7 L255.4 1074.7 L255.7 1073.1 L256 1071.6 L256.3 1070.2 L256.6 1069.3 L256.9 1068.4 L257.2 1067.8 L257.5 1066.9 L257.8 1066 L258.1 1065 L258.4 1064.4 L258.7 1064 L259 1063.8 L259.3 1063.6 L259.6 1064 L259.9 1066.1 L260.2 1068.8 L260.5 1072.3 L260.8 1075.1 L261.1 1077.6 L261.4 1079.9 L261.7 1082.3 L262 1084.4 L262.3 1086.5 L262.6 1088.6 L262.9 1090.8 L263.2 1093.3 L263.5 1096 L263.8 1098.6 L264.1 1101.2 L264.4 1103 L264.7 1105.3 L265 1107 L265.3 1108.9 L265.6 1110.7 L265.9 1112.7 L266.2 1114.4 L266.5 1115.8 L266.8 1116.6 L267.1 1118 L267.4 1119.1 L267.7 1120.7 L268 1121.6 L268.3 1123.2 L268.6 1123.3 L268.9 1124.1 L269.2 1124.7 L269.5 1126.1 L269.8 1126.8 L270.1 1127.1 L270.4 1127.3 L270.7 1128.3 L271 1130.1 L271.3 1131.8 L271.6 1131.8 L271.9 1130.9 L272.2 1130.7 L272.5 1132.1 L272.8 1132.6 L273.1 1132.9 L273.4 1133.3 L273.7 1134.5 L274 1135.1 L274.3 1134.4 L274.6 1133.6 L274.9 1133.7 L275.2 1133.5 L275.5 1134.9 L275.8 1135.2 L276.1 1136.8 L276.4 1137.6 L276.7 1138.8 L277 1138.2 L277.3 1137.9 L277.6 1138.2 L277.9 1138.6 L278.2 1137.9 L278.5 1137.4 L278.8 1137.1 L279.1 1138.5 L279.4 1137.5 L279.7 1137.9 L280 1137.1 L280.3 1138.3 L280.6 1139 L280.9 1139.4 L281.2 1139.5 L281.5 1140.1 L281.8 1139 L282.1 1139.1 L282.4 1138.3 L282.7 1139.5 L283 1139.7 L283.3 1139.6 L283.6 1139.3 L283.9 1139.6 L284.2 1140.3 L284.5 1140.3 L284.8 1140.9 L285.1 1141.9 L285.4 1141.5 L285.7 1140.6 L286 1140.7 L286.3 1141.8 L286.6 1141.7 L286.9 1140.2 L287.2 1139.5 L287.5 1139.1 L287.8 1138.8 L288.1 1139.4 L288.4 1139.1 L288.7 1139 L289 1137.9 L289.3 1137.9 L289.6 1137.5 L289.9 1137.8 L290.2 1138.2 L290.5 1138.6 L290.8 1138.7 L291.1 1138.2 L291.4 1137.8 L291.7 1137.1 L292 1136.4 L292.3 1136.3 L292.6 1135.4 L292.9 1135.6 L293.2 1134.7 L293.5 1134.2 L293.8 1132.6 L294.1 1131.4 L294.4 1130.8 L294.7 1129.5 L295 1129.1 L295.3 1127.4 L295.6 1125.5 L295.9 1123.4 L296.3 1121.7 L296.6 1120.9 L296.9 1119.8 L297.2 1118.7 L297.5 1116.3 L297.8 1113.7 L298.1 1111.5 L298.4 1108.8 L298.7 1105 L299 1100.5 L299.3 1096.3 L299.6 1092.1 L299.9 1088 L300.2 1083.9 L300.5 1079.9 L300.8 1075.8 L301.1 1071.2 L301.4 1065.8 L301.7 1059.6 L302 1053.9 L302.3 1049.5 L302.6 1046.1 L302.9 1042.6 L303.2 1039.6 L303.5 1037.1 L303.8 1036 L304.1 1035.3 L304.4 1034.5 L304.7 1033.9 L305 1033.3 L305.3 1034 L305.6 1036.4 L305.9 1039.9 L306.2 1043.7 L306.5 1047.5 L306.8 1051.1 L307.1 1054.9 L307.4 1058.8 L307.7 1062.9 L308 1067 L308.3 1071.6 L308.6 1077.5 L308.9 1083.5 L309.2 1089.1 L309.5 1093 L309.8 1096.9 L310.1 1100.2 L310.4 1103.2 L310.7 1106 L311 1108.7 L311.3 1110.8 L311.6 1113 L311.9 1115 L312.2 1117.3 L312.5 1119.4 L312.8 1121.7 L313.1 1123.9 L313.4 1125.1 L313.7 1126.5 L314 1127.7 L314.3 1129.3 L314.6 1130.5 L314.9 1130.8 L315.2 1131.1 L315.5 1131.5 L315.8 1131.6 L316.1 1132.4 L316.4 1132.2 L316.7 1133.1 L317 1132.4 L317.3 1132.5 L317.6 1133 L317.9 1134.5 L318.2 1135.7 L318.5 1135.9 L318.8 1135.5 L319.1 1134.8 L319.4 1135.2 L319.7 1135.3 L320 1136.2 L320.3 1137 L320.6 1137.3 L320.9 1136.4 L321.2 1135.2 L321.5 1134.6 L321.8 1134.9 L322.1 1136.2 L322.4 1137.1 L322.7 1137.1 L323 1136.9 L323.3 1137.5 L323.6 1138.3 L323.9 1137.7 L324.2 1137 L324.5 1137.5 L324.8 1138.2 L325.1 1139.1 L325.4 1139.7 L325.7 1140 L326 1140.2 L326.3 1140 L326.6 1138.8 L326.9 1138.1 L327.2 1138 L327.5 1138.7 L327.8 1139.3 L328.1 1139 L328.4 1138.8 L328.7 1139.1 L329 1139.7 L329.3 1140.3 L329.6 1140.1 L329.9 1140.4 L330.2 1140.5 L330.5 1138.9 L330.8 1138.1 L331.1 1137.7 L331.4 1138.5 L331.7 1139 L332 1139.9 L332.3 1140.2 L332.6 1139.6 L332.9 1140 L333.2 1140.1 L333.5 1140.1 L333.8 1139.2 L334.1 1139.7 L334.4 1139.9 L334.7 1140.2 L335 1139.8 L335.3 1139.7 L335.6 1139.4 L335.9 1140 L336.2 1140.1 L336.5 1140.1 L336.8 1139.5 L337.1 1141.1 L337.5 1140.4 L337.8 1140.9 L338.1 1139.2 L338.4 1139.3 L338.7 1138.7 L339 1138.9 L339.3 1139.3 L339.6 1138.8 L339.9 1137.7 L340.2 1136.4 L340.5 1135.9 L340.8 1135.9 L341.1 1136.2 L341.4 1135.3 L341.7 1134.7 L342 1133.7 L342.3 1132.5 L342.6 1129.9 L342.9 1126.9 L343.2 1124.1 L343.5 1122.9 L343.8 1120.5 L344.1 1118.5 L344.4 1115.2 L344.7 1112.3 L345 1108.9 L345.3 1105.7 L345.6 1102.6 L345.9 1099.6 L346.2 1096.6 L346.5 1093.4 L346.8 1090 L347.1 1086.3 L347.4 1081.9 L347.7 1077.5 L348 1072.8 L348.3 1068.5 L348.6 1063.9 L348.9 1059.4 L349.2 1054.2 L349.5 1048.8 L349.8 1045.5 L350.1 1043.4 L350.4 1042 L350.7 1040.5 L351 1039.2 L351.3 1038.4 L351.6 1038.3 L351.9 1039.5 L352.2 1041.1 L352.5 1043.1 L352.8 1045.2 L353.1 1048.2 L353.4 1051.4 L353.7 1054.8 L354 1058 L354.3 1062.3 L354.6 1067.4 L354.9 1072.2 L355.2 1076.6 L355.5 1080.6 L355.8 1084.1 L356.1 1087.5 L356.4 1091 L356.7 1094.1 L357 1097.6 L357.3 1100.7 L357.6 1104.1 L357.9 1107.1 L358.2 1109.8 L358.5 1112 L358.8 1113.9 L359.1 1115.9 L359.4 1117.9 L359.7 1119.8 L360 1121.1 L360.3 1122.7 L360.6 1123.9 L360.9 1125 L361.2 1125.6 L361.5 1127.4 L361.8 1129.1 L362.1 1131.5 L362.4 1131.6 L362.7 1131.9 L363 1132.1 L363.3 1133.3 L363.6 1134.1 L363.9 1134.9 L364.2 1135.3 L364.5 1135.3 L364.8 1134.2 L365.1 1134.9 L365.4 1136 L365.7 1136.3 L366 1135.9 L366.3 1136.2 L366.6 1137.4 L366.9 1137.7 L367.2 1137.9 L367.5 1138 L367.8 1137.5 L368.1 1137.1 L368.4 1137.1 L368.7 1137.8 L369 1137 L369.3 1136.7 L369.6 1137.4 L369.9 1139.3 L370.2 1138.5 L370.5 1139.4 L370.8 1138.1 L371.1 1139.8 L371.4 1139.1 L371.7 1140.2 L372 1139.9 L372.3 1138.7 L372.6 1138.6 L372.9 1138.2 L373.2 1137.6 L373.5 1138.7 L373.8 1139.5 L374.1 1141.7 L374.4 1139.9 L374.7 1140.3 L375 1140.2 L375.3 1141.5 L375.6 1140.8 L375.9 1139.5 L376.2 1138.7 L376.5 1137.7 L376.8 1137.5 L377.1 1137.7 L377.4 1138.3 L377.7 1139.1 L378 1139.1 L378.3 1140.6 L378.7 1141.4 L379 1141.4 L379.3 1141.1 L379.6 1140.1 L379.9 1140 L380.2 1139.9 L380.5 1139.6 L380.8 1139.7 L381.1 1138.6 L381.4 1139.3 L381.7 1140.2 L382 1140.3 L382.3 1140.2 L382.6 1138.8 L382.9 1138.3 L383.2 1137.3 L383.5 1138.2 L383.8 1139.6 L384.1 1140.1 L384.4 1138.7 L384.7 1137.5 L385 1136.6 L385.3 1137 L385.6 1136.3 L385.9 1136.1 L386.2 1135.3 L386.5 1134.1 L386.8 1133 L387.1 1130.9 L387.4 1130 L387.7 1128.4 L388 1127.7 L388.3 1125.5 L388.6 1123.5 L388.9 1120.7 L389.2 1117.4 L389.5 1114 L389.8 1110.9 L390.1 1108.5 L390.4 1106 L390.7 1103.3 L391 1100.3 L391.3 1097.4 L391.6 1094.1 L391.9 1091.4 L392.2 1088.1 L392.5 1084.9 L392.8 1082 L393.1 1079.3 L393.4 1076.6 L393.7 1073.4 L394 1070.3 L394.3 1067.6 L394.6 1064.8 L394.9 1062.1 L395.2 1059.5 L395.5 1057.1 L395.8 1054.8 L396.1 1052.6 L396.4 1051 L396.7 1049.3 L397 1047.9 L397.3 1046 L397.6 1044.8 L397.9 1044 L398.2 1043.6 L398.5 1043.8 L398.8 1044.2 L399.1 1045.4 L399.4 1047 L399.7 1049.1 L400 1051.6 L400.3 1054.3 L400.6 1057.2 L400.9 1060.4 L401.2 1064.5 L401.5 1069.1 L401.8 1073.3 L402.1 1077.4 L402.4 1081.5 L402.7 1085.3 L403 1088.7 L403.3 1091.7 L403.6 1094.8 L403.9 1098 L404.2 1101.1 L404.5 1104.2 L404.8 1107.2 L405.1 1110 L405.4 1112.3 L405.7 1114.6 L406 1116.2 L406.3 1118.7 L406.6 1120.8 L406.9 1123.6 L407.2 1124.9 L407.5 1126.7 L407.8 1127.2 L408.1 1128.3 L408.4 1129.9 L408.7 1130.5 L409 1131.6 L409.3 1132 L409.6 1133.5 L409.9 1134.1 L410.2 1134.5 L410.5 1134.6 L410.8 1134.9 L411.1 1134.3 L411.4 1134.6 L411.7 1134.5 L412 1135.2 L412.3 1136 L412.6 1136.9 L412.9 1136.5 L413.2 1137.6 L413.5 1138.2 L413.8 1139.4 L414.1 1138.3 L414.4 1137.8 L414.7 1137.7 L415 1138.2 L415.3 1137.5 L415.6 1137.6 L415.9 1138.9 L416.2 1138.9 L416.5 1139.1 L416.8 1137.8 L417.1 1138.8 L417.4 1139 L417.7 1138.2 L418 1138.4 L418.3 1138.5 L418.6 1139 L418.9 1138.8 L419.2 1138.1 L419.5 1138 L419.8 1139 L420.2 1138.5 L420.5 1139.2 L420.8 1137.8 L421.1 1138.7 L421.4 1138.2 L421.7 1137.5 L422 1137.2 L422.3 1136.7 L422.6 1137.8 L422.9 1138.7 L423.2 1138.7 L423.5 1138.4 L423.8 1138.3 L424.1 1139 L424.4 1140.3 L424.7 1139.8 L425 1139.3 L425.3 1138.5 L425.6 1139 L425.9 1139.9 L426.2 1140 L426.5 1139.4 L426.8 1138.8 L427.1 1138.6 L427.4 1139.5 L427.7 1139.6 L428 1139.3 L428.3 1138.1 L428.6 1138.4 L428.9 1139.3 L429.2 1139.3 L429.5 1138.5 L429.8 1137.9 L430.1 1136.9 L430.4 1136.3 L430.7 1136.4 L431 1136.7 L431.3 1137.2 L431.6 1137.1 L431.9 1137.3 L432.2 1136.7 L432.5 1136.7 L432.8 1136 L433.1 1135 L433.4 1133.4 L433.7 1132.2 L434 1130.9 L434.3 1129.3 L434.6 1127.5 L434.9 1124.9 L435.2 1122.2 L435.5 1119.3 L435.8 1116.6 L436.1 1113.1 L436.4 1109.8 L436.7 1106.2 L437 1102.3 L437.3 1098 L437.6 1093.8 L437.9 1089.5 L438.2 1085.2 L438.5 1080.8 L438.8 1076.6 L439.1 1072.9 L439.4 1070.2 L439.7 1068 L440 1066.1 L440.3 1064.4 L440.6 1063.6" fill="none" stroke="#008000" stroke-width="3.5" stroke-linejoin="round"/>
<path d="M275.7 860.4 H436.1" stroke="#000" stroke-width="3" stroke-linecap="round"/>
<path d="M265.5 1039 H297.1" stroke="#000" stroke-width="3" stroke-linecap="round"/>
<line x1="284.5" y1="866" x2="284.5" y2="1129" stroke="#000" stroke-width="1.4"/>
<polygon points="284.5,861.6 289.2,879.6 284.5,875.3 279.8,879.6" fill="#000"/>
<polygon points="284.5,1038.4 279.8,1020.4 284.5,1024.7 289.2,1020.4" fill="#000"/>
<polygon points="284.5,1039.6 289.2,1057.6 284.5,1053.3 279.8,1057.6" fill="#000"/>
<polygon points="284.5,1134.2 279.8,1116.2 284.5,1120.5 289.2,1116.2" fill="#000"/>
<line x1="75.4" y1="1156.1" x2="81.4" y2="1156.1" stroke="#000" stroke-width="2.7" stroke-linecap="round"/>
<line x1="75.4" y1="1134.8" x2="87.9" y2="1134.8" stroke="#000" stroke-width="2.7" stroke-linecap="round"/>
<line x1="75.4" y1="1113.5" x2="81.4" y2="1113.5" stroke="#000" stroke-width="2.7" stroke-linecap="round"/>
<line x1="75.4" y1="1092.2" x2="81.4" y2="1092.2" stroke="#000" stroke-width="2.7" stroke-linecap="round"/>
<line x1="75.4" y1="1070.9" x2="81.4" y2="1070.9" stroke="#000" stroke-width="2.7" stroke-linecap="round"/>
<line x1="75.4" y1="1049.5" x2="87.9" y2="1049.5" stroke="#000" stroke-width="2.7" stroke-linecap="round"/>
<line x1="75.4" y1="1028.2" x2="81.4" y2="1028.2" stroke="#000" stroke-width="2.7" stroke-linecap="round"/>
<line x1="75.4" y1="1006.9" x2="81.4" y2="1006.9" stroke="#000" stroke-width="2.7" stroke-linecap="round"/>
<line x1="75.4" y1="985.6" x2="81.4" y2="985.6" stroke="#000" stroke-width="2.7" stroke-linecap="round"/>
<line x1="75.4" y1="964.3" x2="87.9" y2="964.3" stroke="#000" stroke-width="2.7" stroke-linecap="round"/>
<line x1="75.4" y1="943" x2="81.4" y2="943" stroke="#000" stroke-width="2.7" stroke-linecap="round"/>
<line x1="75.4" y1="921.7" x2="81.4" y2="921.7" stroke="#000" stroke-width="2.7" stroke-linecap="round"/>
<line x1="75.4" y1="900.4" x2="81.4" y2="900.4" stroke="#000" stroke-width="2.7" stroke-linecap="round"/>
<line x1="75.4" y1="879" x2="87.9" y2="879" stroke="#000" stroke-width="2.7" stroke-linecap="round"/>
<line x1="75.4" y1="857.7" x2="81.4" y2="857.7" stroke="#000" stroke-width="2.7" stroke-linecap="round"/>
<line x1="75.4" y1="836.4" x2="81.4" y2="836.4" stroke="#000" stroke-width="2.7" stroke-linecap="round"/>
<line x1="75.4" y1="815.1" x2="81.4" y2="815.1" stroke="#000" stroke-width="2.7" stroke-linecap="round"/>
<line x1="84.9" y1="1176.6" x2="84.9" y2="1170.6" stroke="#000" stroke-width="2.7" stroke-linecap="round"/>
<line x1="109.7" y1="1176.6" x2="109.7" y2="1164.1" stroke="#000" stroke-width="2.7" stroke-linecap="round"/>
<line x1="134.4" y1="1176.6" x2="134.4" y2="1170.6" stroke="#000" stroke-width="2.7" stroke-linecap="round"/>
<line x1="159.2" y1="1176.6" x2="159.2" y2="1164.1" stroke="#000" stroke-width="2.7" stroke-linecap="round"/>
<line x1="183.9" y1="1176.6" x2="183.9" y2="1170.6" stroke="#000" stroke-width="2.7" stroke-linecap="round"/>
<line x1="208.6" y1="1176.6" x2="208.6" y2="1164.1" stroke="#000" stroke-width="2.7" stroke-linecap="round"/>
<line x1="233.4" y1="1176.6" x2="233.4" y2="1170.6" stroke="#000" stroke-width="2.7" stroke-linecap="round"/>
<line x1="258.1" y1="1176.6" x2="258.1" y2="1164.1" stroke="#000" stroke-width="2.7" stroke-linecap="round"/>
<line x1="282.8" y1="1176.6" x2="282.8" y2="1170.6" stroke="#000" stroke-width="2.7" stroke-linecap="round"/>
<line x1="307.6" y1="1176.6" x2="307.6" y2="1164.1" stroke="#000" stroke-width="2.7" stroke-linecap="round"/>
<line x1="332.3" y1="1176.6" x2="332.3" y2="1170.6" stroke="#000" stroke-width="2.7" stroke-linecap="round"/>
<line x1="357.1" y1="1176.6" x2="357.1" y2="1164.1" stroke="#000" stroke-width="2.7" stroke-linecap="round"/>
<line x1="381.8" y1="1176.6" x2="381.8" y2="1170.6" stroke="#000" stroke-width="2.7" stroke-linecap="round"/>
<line x1="406.5" y1="1176.6" x2="406.5" y2="1164.1" stroke="#000" stroke-width="2.7" stroke-linecap="round"/>
<line x1="431.3" y1="1176.6" x2="431.3" y2="1170.6" stroke="#000" stroke-width="2.7" stroke-linecap="round"/>
<rect x="74.5" y="810.8" width="367.3" height="366.7" fill="none" stroke="#000" stroke-width="2.7" stroke-linejoin="round"/>
<text transform="translate(50 1143.8) scale(0.97 1)" font-size="26.29" stroke="#000">0</text>
<path transform="translate(50.02 1058.5) scale(0.01245 -0.01284)" d="M763 0L583 0L583 1147Q518 1085 412.5 1023Q307 961 223 930L223 1104Q374 1175 487 1276Q600 1377 647 1472L763 1472Z" stroke="#000" stroke-width="33"/>
<text transform="translate(50 973.3) scale(0.97 1)" font-size="26.29" stroke="#000">2</text>
<text transform="translate(50 888) scale(0.97 1)" font-size="26.29" stroke="#000">3</text>
<text transform="translate(90.3 1212.9) scale(0.97 1)" font-size="26.29" stroke="#000" letter-spacing="0.4123711340206186">-</text>
<path transform="translate(99.24 1212.9) scale(0.01245 -0.01284)" d="M763 0L583 0L583 1147Q518 1085 412.5 1023Q307 961 223 930L223 1104Q374 1175 487 1276Q600 1377 647 1472L763 1472Z" stroke="#000" stroke-width="33"/>
<text transform="translate(113.8 1212.9) scale(0.97 1)" font-size="26.29" stroke="#000" letter-spacing="0.4123711340206186">5</text>
<text transform="translate(139.8 1212.9) scale(0.97 1)" font-size="26.29" stroke="#000" letter-spacing="0.4123711340206186">-</text>
<path transform="translate(148.71 1212.9) scale(0.01245 -0.01284)" d="M763 0L583 0L583 1147Q518 1085 412.5 1023Q307 961 223 930L223 1104Q374 1175 487 1276Q600 1377 647 1472L763 1472Z" stroke="#000" stroke-width="33"/>
<text transform="translate(163.3 1212.9) scale(0.97 1)" font-size="26.29" stroke="#000" letter-spacing="0.4123711340206186">0</text>
<text transform="translate(196.6 1212.9) scale(0.97 1)" font-size="26.29" stroke="#000" letter-spacing="0.4123711340206186">-5</text>
<text transform="translate(251 1212.9) scale(0.97 1)" font-size="26.29" stroke="#000">0</text>
<text transform="translate(300.5 1212.9) scale(0.97 1)" font-size="26.29" stroke="#000">5</text>
<path transform="translate(342.87 1212.9) scale(0.01245 -0.01284)" d="M763 0L583 0L583 1147Q518 1085 412.5 1023Q307 961 223 930L223 1104Q374 1175 487 1276Q600 1377 647 1472L763 1472Z" stroke="#000" stroke-width="33"/>
<text transform="translate(357.1 1212.9) scale(0.97 1)" font-size="26.29" stroke="#000">0</text>
<path transform="translate(392.34 1212.9) scale(0.01245 -0.01284)" d="M763 0L583 0L583 1147Q518 1085 412.5 1023Q307 961 223 930L223 1104Q374 1175 487 1276Q600 1377 647 1472L763 1472Z" stroke="#000" stroke-width="33"/>
<text transform="translate(406.5 1212.9) scale(0.97 1)" font-size="26.29" stroke="#000">5</text>
<text transform="translate(255.1 1259) scale(1.035 1)" font-size="31.11" text-anchor="middle" fill="#000" stroke="#000">Magnetic field (mT)</text>
<text transform="translate(32 1003.1) rotate(-90) scale(0.954 1)" font-size="33.5" text-anchor="middle" stroke="#000">Kerr rotation (arb. units)</text>
<text transform="translate(88.1 844) scale(1.05 1)" font-size="34.48" text-anchor="start" fill="#000" stroke="#000">(b)</text>
<text transform="translate(178.5 843) scale(1.035 1)" font-size="27.73" text-anchor="start" fill="#0000ff" stroke="#0000ff">PR, Faraday</text>
<text transform="translate(97.9 972.5) scale(1.035 1)" font-size="28.50" text-anchor="start" fill="#008000" stroke="#008000">RSA</text>
<text transform="translate(100.5 1010) scale(1.035 1)" font-size="27.92" text-anchor="start" fill="#008000" stroke="#008000">Voigt</text>
<text transform="translate(258.3 950) scale(1.035 1)" font-size="24.64" text-anchor="start" fill="#000" stroke="#000">C</text>
<text transform="translate(263.7 1079.2) scale(1.035 1)" font-size="25.12" text-anchor="start" fill="#000" stroke="#000">D</text>
<text transform="translate(285.6 1012.4) scale(1.035 1)" font-size="28.31" stroke="#000"><tspan font-style="italic">f</tspan><tspan font-size="17.4" dy="12.4">m</tspan><tspan dy="-12.4"> = 75 kHz</tspan></text>
<path d="M548.65 1131.9 H917" stroke="#000" stroke-width="2.9" stroke-linecap="round" stroke-dasharray="10 13.45" fill="none"/>
<path d="M563.9 1032.1 L564.6 1032.3 L565.3 1032.4 L566 1032.6 L566.7 1032.5 L567.4 1032.5 L568.1 1032.6 L568.9 1032.6 L569.6 1032.6 L570.3 1032.5 L571 1032.6 L571.7 1032.8 L572.4 1032.8 L573.1 1032.9 L573.8 1032.8 L574.5 1032.8 L575.2 1032.8 L575.9 1033 L576.6 1033 L577.3 1033 L578 1033.1 L578.8 1033.2 L579.5 1033.4 L580.2 1033.2 L580.9 1033.5 L581.6 1033.6 L582.3 1033.9 L583 1034 L583.7 1034 L584.4 1033.9 L585.1 1033.8 L585.8 1033.8 L586.5 1033.7 L587.2 1033.6 L587.9 1033.7 L588.7 1033.8 L589.4 1033.9 L590.1 1033.9 L590.8 1034 L591.5 1034.3 L592.2 1034.2 L592.9 1034.2 L593.6 1034.4 L594.3 1034.5 L595 1034.5 L595.7 1034.5 L596.4 1034.6 L597.1 1034.8 L597.8 1034.9 L598.6 1034.9 L599.3 1035.2 L600 1035.4 L600.7 1035.5 L601.4 1035.6 L602.1 1035.4 L602.8 1035.5 L603.5 1035.3 L604.2 1035.2 L604.9 1035.3 L605.6 1035.2 L606.3 1035.4 L607 1035.5 L607.7 1035.7 L608.5 1035.6 L609.2 1035.7 L609.9 1035.7 L610.6 1035.7 L611.3 1035.8 L612 1035.7 L612.7 1035.9 L613.4 1036 L614.1 1036.1 L614.8 1036.2 L615.5 1036.3 L616.2 1036.3 L616.9 1036.4 L617.6 1036.2 L618.4 1036.3 L619.1 1036.4 L619.8 1036.5 L620.5 1036.6 L621.2 1036.7 L621.9 1037 L622.6 1037 L623.3 1037.1 L624 1037.3 L624.7 1037.4 L625.4 1037.4 L626.1 1037.5 L626.8 1037.5 L627.5 1037.6 L628.3 1037.4 L629 1037.3 L629.7 1037.5 L630.4 1037.3 L631.1 1037.4 L631.8 1037.5 L632.5 1037.7 L633.2 1037.6 L633.9 1037.6 L634.6 1037.9 L635.3 1037.9 L636 1038 L636.7 1037.9 L637.5 1038.3 L638.2 1038.4 L638.9 1038.6 L639.6 1038.6 L640.3 1038.8 L641 1039.2 L641.7 1039.4 L642.4 1039.5 L643.1 1039.5 L643.8 1040.1 L644.5 1040.1 L645.2 1040.2 L645.9 1040.3 L646.6 1040.4 L647.4 1040.8 L648.1 1040.9 L648.8 1041 L649.5 1041.1 L650.2 1041.4 L650.9 1041.7 L651.6 1041.9 L652.3 1042 L653 1042.1 L653.7 1042.4 L654.4 1042.4 L655.1 1042.3 L655.8 1042.5 L656.5 1042.5 L657.3 1043 L658 1043.1 L658.7 1043.4 L659.4 1043.8 L660.1 1044 L660.8 1044.3 L661.5 1044.2 L662.2 1044.4 L662.9 1044.7 L663.6 1044.8 L664.3 1044.8 L665 1045 L665.7 1045.3 L666.4 1045.4 L667.2 1045.4 L667.9 1045.6 L668.6 1045.9 L669.3 1046.1 L670 1046.3 L670.7 1046.7 L671.4 1046.8 L672.1 1047.1 L672.8 1047.4 L673.5 1047.6 L674.2 1047.8 L674.9 1047.9 L675.6 1048.2 L676.3 1048.5 L677.1 1048.6 L677.8 1048.6 L678.5 1048.8 L679.2 1049.1 L679.9 1049.4 L680.6 1049.5 L681.3 1049.7 L682 1050.1 L682.7 1050.3 L683.4 1050.7 L684.1 1050.9 L684.8 1051.5 L685.5 1051.9 L686.2 1052.4 L687 1052.9 L687.7 1053.4 L688.4 1054 L689.1 1054.6 L689.8 1055.2 L690.5 1055.8 L691.2 1056.2 L691.9 1056.8 L692.6 1057.4 L693.3 1057.8 L694 1058.4 L694.7 1058.9 L695.4 1059.4 L696.1 1059.8 L696.9 1060.6 L697.6 1061.1 L698.3 1061.8 L699 1062.6 L699.7 1063.3 L700.4 1064 L701.1 1064.7 L701.8 1065.3 L702.5 1066.1 L703.2 1066.8 L703.9 1067.5 L704.6 1068.3 L705.3 1069 L706.1 1069.9 L706.8 1070.5 L707.5 1071.3 L708.2 1072 L708.9 1072.8 L709.6 1073.6 L710.3 1074.4 L711 1075.2 L711.7 1075.9 L712.4 1076.8 L713.1 1077.6 L713.8 1078.3 L714.5 1079 L715.2 1079.6 L716 1080.4 L716.7 1081.1 L717.4 1081.8 L718.1 1082.6 L718.8 1083.4 L719.5 1084.2 L720.2 1084.8 L720.9 1085.4 L721.6 1086.1 L722.3 1086.7 L723 1087.3 L723.7 1087.8 L724.4 1088.4 L725.1 1089.1 L725.9 1089.5 L726.6 1089.9 L727.3 1090.2 L728 1090.6 L728.7 1090.8 L729.4 1091.2 L730.1 1091.4 L730.8 1091.7 L731.5 1091.8 L732.2 1092 L732.9 1092 L733.6 1091.8 L734.3 1092 L735 1091.7 L735.8 1091.4 L736.5 1091.1 L737.2 1090.8 L737.9 1090.8 L738.6 1090.4 L739.3 1090.3 L740 1089.9 L740.7 1089.4 L741.4 1088.8 L742.1 1088 L742.8 1087.2 L743.5 1086.3 L744.2 1085.7 L744.9 1084.8 L745.7 1084 L746.4 1083 L747.1 1082.1 L747.8 1081.2 L748.5 1080.3 L749.2 1079.5 L749.9 1078.5 L750.6 1077.6 L751.3 1076.9 L752 1076 L752.7 1075.1 L753.4 1074.1 L754.1 1073.2 L754.8 1072.1 L755.6 1071.1 L756.3 1070 L757 1069 L757.7 1068.1 L758.4 1067.1 L759.1 1066.2 L759.8 1065.3 L760.5 1064.5 L761.2 1063.6 L761.9 1062.6 L762.6 1061.8 L763.3 1060.9 L764 1060.1 L764.7 1059.3 L765.5 1058.8 L766.2 1058.3 L766.9 1057.7 L767.6 1057.1 L768.3 1056.7 L769 1056.2 L769.7 1055.5 L770.4 1054.9 L771.1 1054.4 L771.8 1054 L772.5 1053.4 L773.2 1053.2 L773.9 1052.7 L774.6 1052.4 L775.4 1051.9 L776.1 1051.7 L776.8 1051.3 L777.5 1050.8 L778.2 1050.7 L778.9 1050.5 L779.6 1050.2 L780.3 1049.7 L781 1049.4 L781.7 1049.1 L782.4 1048.8 L783.1 1048.4 L783.8 1048.2 L784.6 1047.9 L785.3 1047.7 L786 1047.5 L786.7 1047.4 L787.4 1047.1 L788.1 1046.9 L788.8 1046.6 L789.5 1046.5 L790.2 1046.2 L790.9 1045.8 L791.6 1045.7 L792.3 1045.5 L793 1045.3 L793.7 1045 L794.5 1044.9 L795.2 1044.7 L795.9 1044.4 L796.6 1044.2 L797.3 1044 L798 1043.7 L798.7 1043.6 L799.4 1043.5 L800.1 1043.3 L800.8 1042.9 L801.5 1042.8 L802.2 1042.7 L802.9 1042.4 L803.6 1041.9 L804.4 1041.8 L805.1 1041.6 L805.8 1041.1 L806.5 1040.8 L807.2 1040.5 L807.9 1040.3 L808.6 1040.3 L809.3 1040.1 L810 1040 L810.7 1039.9 L811.4 1039.9 L812.1 1039.8 L812.8 1039.6 L813.5 1039.4 L814.3 1039.4 L815 1039.2 L815.7 1038.9 L816.4 1038.8 L817.1 1038.7 L817.8 1038.6 L818.5 1038.5 L819.2 1038.4 L819.9 1038.3 L820.6 1038.2 L821.3 1037.9 L822 1037.7 L822.7 1037.4 L823.4 1037.4 L824.2 1037.4 L824.9 1037.1 L825.6 1037.1 L826.3 1037 L827 1036.7 L827.7 1036.3 L828.4 1036.2 L829.1 1036.4 L829.8 1036.3 L830.5 1036.2 L831.2 1036.3 L831.9 1036.2 L832.6 1036.2 L833.3 1036 L834.1 1035.8 L834.8 1035.9 L835.5 1035.6 L836.2 1035.6 L836.9 1035.7 L837.6 1035.7 L838.3 1035.8 L839 1035.6 L839.7 1035.8 L840.4 1035.8 L841.1 1035.7 L841.8 1035.6 L842.5 1035.4 L843.2 1035.5 L844 1035.5 L844.7 1035.4 L845.4 1035.5 L846.1 1035.5 L846.8 1035.5 L847.5 1035.4 L848.2 1035.2 L848.9 1035 L849.6 1034.9 L850.3 1035.1 L851 1034.9 L851.7 1034.8 L852.4 1034.7 L853.2 1034.7 L853.9 1034.4 L854.6 1034.3 L855.3 1034.4 L856 1034.4 L856.7 1034.5 L857.4 1034.5 L858.1 1034.6 L858.8 1034.5 L859.5 1034.4 L860.2 1034.3 L860.9 1034.1 L861.6 1034 L862.3 1034 L863.1 1034.1 L863.8 1034.2 L864.5 1034.3 L865.2 1034.2 L865.9 1034.3 L866.6 1034.4 L867.3 1034.2 L868 1034.3 L868.7 1034.1 L869.4 1034 L870.1 1033.7 L870.8 1033.5 L871.5 1033.6 L872.2 1033.5 L873 1033.5 L873.7 1033.4 L874.4 1033.5 L875.1 1033.4 L875.8 1033.2 L876.5 1033.1 L877.2 1032.9 L877.9 1032.9 L878.6 1032.9 L879.3 1032.9 L880 1032.8 L880.7 1032.7 L881.4 1033 L882.1 1032.8 L882.9 1032.9 L883.6 1033 L884.3 1033 L885 1033 L885.7 1032.8 L886.4 1033.1 L887.1 1032.8 L887.8 1032.7 L888.5 1032.8 L889.2 1032.9 L889.9 1032.9 L890.6 1032.7 L891.3 1032.8 L892 1032.7 L892.8 1032.7 L893.5 1032.6 L894.2 1032.2 L894.9 1032.2 L895.6 1032.1 L896.3 1032.4 L897 1032.1 L897.7 1032.1 L898.4 1032.4 L899.1 1032.5 L899.8 1032.5 L900.5 1032.3 L901.2 1032.4 L901.9 1032.3 L902.7 1032.2 L903.4 1032.1 L904.1 1031.9 L904.8 1031.9 L905.5 1031.7 L906.2 1031.8 L906.9 1031.8 L907.6 1031.8 L908.3 1031.7 L909 1031.6 L909.7 1031.7 L910.4 1031.6 L911.1 1031.5 L911.8 1031.5 L912.6 1031.5 L913.3 1031.5 L914 1031.2 L914.7 1031.2 L915.4 1031.1 L916.1 1030.9 L916.8 1031" fill="none" stroke="#000000" stroke-width="3.6" stroke-linejoin="round" stroke-linecap="round"/>
<path d="M559 1009.1 L559.7 1009.3 L560.4 1009.2 L561.2 1009.2 L561.9 1009.3 L562.6 1009.2 L563.3 1009.2 L564 1008.9 L564.7 1008.9 L565.5 1008.9 L566.2 1008.9 L566.9 1008.6 L567.6 1008.8 L568.3 1009.1 L569 1009.2 L569.8 1009.3 L570.5 1009.4 L571.2 1009.7 L571.9 1009.8 L572.6 1009.8 L573.3 1010 L574.1 1009.6 L574.8 1009.6 L575.5 1009.5 L576.2 1009.4 L576.9 1009.2 L577.6 1008.6 L578.4 1008.9 L579.1 1008.6 L579.8 1008.7 L580.5 1008.6 L581.2 1009 L581.9 1009.4 L582.7 1009.5 L583.4 1009.6 L584.1 1009.5 L584.8 1009.6 L585.5 1009.4 L586.2 1009.5 L587 1009.6 L587.7 1009.6 L588.4 1009.8 L589.1 1010 L589.8 1010.2 L590.5 1010.7 L591.3 1010.9 L592 1011.2 L592.7 1011.1 L593.4 1011.2 L594.1 1011 L594.9 1011 L595.6 1010.9 L596.3 1011.1 L597 1011.3 L597.7 1011.7 L598.4 1012.3 L599.2 1012.1 L599.9 1012.3 L600.6 1012.2 L601.3 1012.5 L602 1012.5 L602.7 1012.1 L603.5 1012.1 L604.2 1012 L604.9 1012.3 L605.6 1012.7 L606.3 1012.7 L607 1013.1 L607.8 1013.5 L608.5 1013.6 L609.2 1013.5 L609.9 1013.2 L610.6 1013.3 L611.3 1013.5 L612.1 1013.3 L612.8 1013.5 L613.5 1013.7 L614.2 1013.7 L614.9 1013.9 L615.6 1013.8 L616.4 1014.2 L617.1 1014.3 L617.8 1014.4 L618.5 1014.2 L619.2 1014.5 L619.9 1014.7 L620.7 1014.9 L621.4 1015.1 L622.1 1014.8 L622.8 1015.1 L623.5 1014.8 L624.3 1014.4 L625 1014.4 L625.7 1014.2 L626.4 1014.4 L627.1 1014.2 L627.8 1014.4 L628.6 1014.5 L629.3 1014.3 L630 1014.4 L630.7 1014.8 L631.4 1014.9 L632.1 1014.9 L632.9 1014.8 L633.6 1015.2 L634.3 1015.7 L635 1015.6 L635.7 1015.8 L636.4 1016.1 L637.2 1016.5 L637.9 1016.3 L638.6 1016.4 L639.3 1016.7 L640 1017 L640.7 1017.3 L641.5 1017.5 L642.2 1018 L642.9 1017.8 L643.6 1018 L644.3 1018.1 L645 1018.1 L645.8 1018.2 L646.5 1018.2 L647.2 1018.4 L647.9 1018.2 L648.6 1018.4 L649.3 1019 L650.1 1019.5 L650.8 1019.9 L651.5 1020.5 L652.2 1020.9 L652.9 1021.3 L653.6 1021.4 L654.4 1021.3 L655.1 1021.3 L655.8 1021.5 L656.5 1021.8 L657.2 1022 L658 1022.3 L658.7 1022.7 L659.4 1023.3 L660.1 1023.5 L660.8 1023.8 L661.5 1024.3 L662.3 1024.5 L663 1024.7 L663.7 1024.8 L664.4 1025.1 L665.1 1025.5 L665.8 1025.9 L666.6 1025.9 L667.3 1026.2 L668 1026.4 L668.7 1026.5 L669.4 1026.5 L670.1 1026.5 L670.9 1027 L671.6 1027.3 L672.3 1027.4 L673 1027.7 L673.7 1028.1 L674.4 1028.3 L675.2 1028.5 L675.9 1028.6 L676.6 1029.1 L677.3 1029.1 L678 1029.1 L678.7 1029.4 L679.5 1029.4 L680.2 1029.8 L680.9 1029.9 L681.6 1030.3 L682.3 1030.6 L683 1030.5 L683.8 1031 L684.5 1031.1 L685.2 1031.7 L685.9 1032.4 L686.6 1033.2 L687.3 1034.3 L688.1 1035 L688.8 1036 L689.5 1036.7 L690.2 1037.3 L690.9 1037.9 L691.7 1038.8 L692.4 1039.6 L693.1 1040.4 L693.8 1041.3 L694.5 1042.1 L695.2 1043 L696 1043.7 L696.7 1044.6 L697.4 1045.4 L698.1 1046.1 L698.8 1046.9 L699.5 1047.9 L700.3 1048.6 L701 1049.4 L701.7 1050.3 L702.4 1051.4 L703.1 1052.4 L703.8 1053 L704.6 1054.2 L705.3 1055.1 L706 1055.9 L706.7 1056.7 L707.4 1057.4 L708.1 1058.2 L708.9 1058.9 L709.6 1059.8 L710.3 1060.7 L711 1061.6 L711.7 1062.5 L712.4 1063.6 L713.2 1064.3 L713.9 1065.3 L714.6 1066.4 L715.3 1067.7 L716 1068.8 L716.7 1069.7 L717.5 1070.6 L718.2 1071.1 L718.9 1071.8 L719.6 1072.3 L720.3 1073.2 L721 1074.1 L721.8 1075.1 L722.5 1076.2 L723.2 1077.1 L723.9 1078 L724.6 1078.5 L725.4 1079.1 L726.1 1079.5 L726.8 1080.3 L727.5 1081 L728.2 1081.4 L728.9 1081.8 L729.7 1082.2 L730.4 1082.6 L731.1 1082.7 L731.8 1082.7 L732.5 1082.9 L733.2 1083.1 L734 1083.2 L734.7 1083.2 L735.4 1083 L736.1 1082.9 L736.8 1082.5 L737.5 1082.4 L738.3 1082 L739 1081.7 L739.7 1081.3 L740.4 1080.6 L741.1 1080.1 L741.8 1079.2 L742.6 1078.4 L743.3 1077.6 L744 1076.6 L744.7 1075.8 L745.4 1074.7 L746.1 1073.8 L746.9 1072.6 L747.6 1071.5 L748.3 1070.6 L749 1069.5 L749.7 1068.4 L750.4 1067.3 L751.2 1066.2 L751.9 1065.1 L752.6 1064 L753.3 1062.8 L754 1061.6 L754.8 1060.3 L755.5 1059.2 L756.2 1058 L756.9 1056.8 L757.6 1055.6 L758.3 1054.5 L759.1 1053.7 L759.8 1052.6 L760.5 1051.6 L761.2 1050.6 L761.9 1049.4 L762.6 1048.4 L763.4 1047.1 L764.1 1046.3 L764.8 1045.3 L765.5 1044.2 L766.2 1043.5 L766.9 1042.7 L767.7 1041.8 L768.4 1040.9 L769.1 1039.9 L769.8 1039.2 L770.5 1038.5 L771.2 1037.8 L772 1037.2 L772.7 1036.4 L773.4 1036 L774.1 1035.6 L774.8 1035.1 L775.5 1034.4 L776.3 1033.8 L777 1033.2 L777.7 1032.6 L778.4 1032.1 L779.1 1031.4 L779.8 1030.8 L780.6 1030.1 L781.3 1029.6 L782 1028.9 L782.7 1028.6 L783.4 1028.2 L784.1 1027.7 L784.9 1027.8 L785.6 1027.7 L786.3 1027.7 L787 1027.6 L787.7 1027.6 L788.5 1027.4 L789.2 1027.2 L789.9 1026.9 L790.6 1026.6 L791.3 1026.3 L792 1025.6 L792.8 1025.4 L793.5 1024.9 L794.2 1024.4 L794.9 1024.1 L795.6 1023.5 L796.3 1023.1 L797.1 1023 L797.8 1022.9 L798.5 1022.7 L799.2 1022.2 L799.9 1022 L800.6 1021.8 L801.4 1021.5 L802.1 1021.2 L802.8 1021 L803.5 1021 L804.2 1020.8 L804.9 1020.7 L805.7 1020.5 L806.4 1020.3 L807.1 1020.1 L807.8 1019.9 L808.5 1019.7 L809.2 1019.5 L810 1019.2 L810.7 1019.3 L811.4 1019 L812.1 1018.8 L812.8 1018.7 L813.5 1018.5 L814.3 1018.4 L815 1018.1 L815.7 1017.4 L816.4 1017.4 L817.1 1017.1 L817.8 1016.7 L818.6 1016.3 L819.3 1016 L820 1016.4 L820.7 1016.1 L821.4 1015.7 L822.2 1015.8 L822.9 1015.6 L823.6 1015.9 L824.3 1015.3 L825 1014.7 L825.7 1014.8 L826.5 1014.5 L827.2 1014.4 L827.9 1013.7 L828.6 1013.8 L829.3 1014.3 L830 1013.9 L830.8 1014 L831.5 1013.9 L832.2 1014.5 L832.9 1014.4 L833.6 1014 L834.3 1014.4 L835.1 1014.2 L835.8 1014.1 L836.5 1013.8 L837.2 1013.5 L837.9 1013.2 L838.6 1013.3 L839.4 1013.1 L840.1 1013 L840.8 1012.8 L841.5 1012.6 L842.2 1012.6 L842.9 1012.1 L843.7 1012 L844.4 1012 L845.1 1012 L845.8 1012.1 L846.5 1012.3 L847.2 1012.4 L848 1012.2 L848.7 1012.1 L849.4 1011.6 L850.1 1011.7 L850.8 1011.6 L851.5 1011.4 L852.3 1011.2 L853 1011 L853.7 1010.9 L854.4 1010.7 L855.1 1010.4 L855.9 1010.2 L856.6 1010.4 L857.3 1010.3 L858 1010.2 L858.7 1010.1 L859.4 1009.9 L860.2 1009.9 L860.9 1009.6 L861.6 1009.3 L862.3 1009.2 L863 1008.8 L863.7 1009 L864.5 1009.2 L865.2 1009.1 L865.9 1009.4 L866.6 1009.3 L867.3 1009.4 L868 1009.2 L868.8 1009 L869.5 1009.4 L870.2 1009.2 L870.9 1009 L871.6 1009.1 L872.3 1008.9 L873.1 1008.8 L873.8 1007.9 L874.5 1008 L875.2 1008.3 L875.9 1008.2 L876.6 1008.4 L877.4 1008.7 L878.1 1009.2 L878.8 1009.1 L879.5 1008.9 L880.2 1008.7 L880.9 1008.7 L881.7 1008.5 L882.4 1008.3 L883.1 1008.1 L883.8 1008.2 L884.5 1008.1 L885.3 1008 L886 1007.9 L886.7 1007.8 L887.4 1007.6 L888.1 1007.8 L888.8 1007.7 L889.6 1007.6 L890.3 1007.7 L891 1008 L891.7 1007.9 L892.4 1007.6 L893.1 1007.7 L893.9 1007.8 L894.6 1007.5 L895.3 1007.1 L896 1007.4 L896.7 1007.6 L897.4 1007.5 L898.2 1007.2 L898.9 1007.3 L899.6 1007.4 L900.3 1007.3 L901 1006.9 L901.7 1006.8 L902.5 1006.8 L903.2 1006.5 L903.9 1006.4 L904.6 1006.3 L905.3 1006.3 L906 1006.3 L906.8 1006.1 L907.5 1006.2 L908.2 1006.2 L908.9 1006.2 L909.6 1006.4 L910.3 1006.1 L911.1 1006.1 L911.8 1006.1 L912.5 1006.1 L913.2 1006.3 L913.9 1006.2 L914.6 1006.2 L915.4 1006.6 L916.1 1006.4 L916.8 1006.1" fill="none" stroke="#008000" stroke-width="3.6" stroke-linejoin="round" stroke-linecap="round"/>
<path d="M560.6 958.4 L561.3 958.7 L562 958.9 L562.7 959 L563.5 959 L564.2 959.1 L564.9 959.2 L565.6 959.4 L566.3 959.7 L567 959.6 L567.7 959.4 L568.5 959.5 L569.2 959.9 L569.9 959.7 L570.6 959.7 L571.3 959.8 L572 960.2 L572.7 960.2 L573.4 959.7 L574.2 959.9 L574.9 959.8 L575.6 959.6 L576.3 959.5 L577 959.4 L577.7 959.9 L578.4 960.3 L579.2 960.7 L579.9 960.9 L580.6 960.7 L581.3 960.7 L582 960.5 L582.7 960 L583.4 959.7 L584.2 959.5 L584.9 959.7 L585.6 959.7 L586.3 959.7 L587 959.6 L587.7 960 L588.4 960.1 L589.2 960.4 L589.9 960.8 L590.6 961.1 L591.3 961.5 L592 961.4 L592.7 961.8 L593.4 962 L594.1 962 L594.9 962 L595.6 962.1 L596.3 962.2 L597 961.9 L597.7 962 L598.4 962.2 L599.1 962.5 L599.9 962.7 L600.6 963 L601.3 963.4 L602 963.3 L602.7 963.4 L603.4 963.7 L604.1 963.5 L604.9 964.1 L605.6 964.2 L606.3 964.7 L607 964.9 L607.7 965.1 L608.4 965.2 L609.1 964.9 L609.9 965.2 L610.6 965.2 L611.3 965.4 L612 965.7 L612.7 965.9 L613.4 966.3 L614.1 966.5 L614.9 966.7 L615.6 966.8 L616.3 967.1 L617 967.4 L617.7 967.5 L618.4 967.5 L619.1 967.3 L619.8 967.5 L620.6 967.5 L621.3 967.5 L622 967.6 L622.7 967.8 L623.4 968.4 L624.1 968.7 L624.8 968.6 L625.6 969 L626.3 969.4 L627 969.6 L627.7 969.4 L628.4 969.3 L629.1 969.3 L629.8 969.1 L630.6 969.2 L631.3 969.3 L632 969.6 L632.7 970 L633.4 970.4 L634.1 970.4 L634.8 970.3 L635.6 970.3 L636.3 970.2 L637 970.2 L637.7 970.3 L638.4 970.4 L639.1 970.8 L639.8 971 L640.5 971.4 L641.3 971.6 L642 971.9 L642.7 972.3 L643.4 972.5 L644.1 972.8 L644.8 973.3 L645.5 973.5 L646.3 973.9 L647 974.4 L647.7 975 L648.4 975.1 L649.1 975.4 L649.8 975.8 L650.5 975.9 L651.3 976 L652 976.1 L652.7 976.5 L653.4 976.5 L654.1 977 L654.8 977.2 L655.5 977.4 L656.3 977.8 L657 978.2 L657.7 978.7 L658.4 978.7 L659.1 979.3 L659.8 979.8 L660.5 980.3 L661.2 980.4 L662 980.7 L662.7 981.1 L663.4 981.2 L664.1 981.4 L664.8 981.7 L665.5 982.2 L666.2 982.5 L667 983.1 L667.7 983.8 L668.4 984.5 L669.1 984.6 L669.8 985.1 L670.5 985.8 L671.2 986 L672 986.2 L672.7 986.7 L673.4 987.4 L674.1 987.7 L674.8 987.7 L675.5 988 L676.2 988.4 L677 988.7 L677.7 989.1 L678.4 989.6 L679.1 990.4 L679.8 991 L680.5 991.5 L681.2 992 L682 992.4 L682.7 993.3 L683.4 994 L684.1 994.5 L684.8 995.1 L685.5 995.7 L686.2 996.2 L686.9 996.5 L687.7 997.1 L688.4 998.1 L689.1 999.1 L689.8 1000.1 L690.5 1001.2 L691.2 1002.3 L691.9 1003.5 L692.7 1004.6 L693.4 1005.9 L694.1 1007.1 L694.8 1008.5 L695.5 1009.8 L696.2 1011.1 L696.9 1012.2 L697.7 1013.3 L698.4 1014.6 L699.1 1015.9 L699.8 1017 L700.5 1018.1 L701.2 1019.3 L701.9 1020.4 L702.7 1021.4 L703.4 1022.4 L704.1 1023.5 L704.8 1024.6 L705.5 1025.7 L706.2 1026.9 L706.9 1028.2 L707.6 1029.2 L708.4 1030.5 L709.1 1031.8 L709.8 1033.2 L710.5 1034.5 L711.2 1035.9 L711.9 1037.3 L712.6 1038.5 L713.4 1039.7 L714.1 1040.9 L714.8 1041.8 L715.5 1043 L716.2 1044 L716.9 1045.2 L717.6 1046.4 L718.4 1047.6 L719.1 1049 L719.8 1050.2 L720.5 1051.7 L721.2 1053.1 L721.9 1054.6 L722.6 1056 L723.4 1057.1 L724.1 1058.2 L724.8 1059.2 L725.5 1059.9 L726.2 1060.8 L726.9 1061.5 L727.6 1062.3 L728.3 1062.8 L729.1 1063.2 L729.8 1063.7 L730.5 1064.3 L731.2 1064.5 L731.9 1064.7 L732.6 1065.1 L733.3 1064.9 L734.1 1064.8 L734.8 1064.7 L735.5 1064.5 L736.2 1064.6 L736.9 1063.7 L737.6 1063.9 L738.3 1063.7 L739.1 1063.1 L739.8 1062.5 L740.5 1061.4 L741.2 1060.5 L741.9 1059.4 L742.6 1058 L743.3 1056.6 L744.1 1055.1 L744.8 1053.3 L745.5 1051.6 L746.2 1050 L746.9 1048.6 L747.6 1047.3 L748.3 1046 L749.1 1044.7 L749.8 1043.5 L750.5 1042.2 L751.2 1040.9 L751.9 1039.4 L752.6 1037.8 L753.3 1036.4 L754 1034.7 L754.8 1033.1 L755.5 1031.6 L756.2 1030.1 L756.9 1028.8 L757.6 1027.3 L758.3 1026.1 L759 1024.8 L759.8 1023.6 L760.5 1022.5 L761.2 1021.3 L761.9 1019.8 L762.6 1018.3 L763.3 1016.5 L764 1014.7 L764.8 1013 L765.5 1011.6 L766.2 1010.2 L766.9 1008.9 L767.6 1007.9 L768.3 1006.8 L769 1005.5 L769.8 1004.5 L770.5 1003.4 L771.2 1002.3 L771.9 1001.1 L772.6 999.8 L773.3 998.9 L774 997.7 L774.7 996.8 L775.5 996 L776.2 995.3 L776.9 994.8 L777.6 994 L778.3 993.3 L779 992.7 L779.7 992 L780.5 991.4 L781.2 990.9 L781.9 990.4 L782.6 990.3 L783.3 989.9 L784 989.7 L784.7 989.2 L785.5 988.6 L786.2 988.3 L786.9 987.7 L787.6 987 L788.3 986.7 L789 986.3 L789.7 986 L790.5 985.5 L791.2 984.8 L791.9 984.4 L792.6 984.1 L793.3 983.6 L794 982.9 L794.7 982.4 L795.4 982.1 L796.2 981.6 L796.9 980.6 L797.6 980 L798.3 979.8 L799 979.3 L799.7 978.9 L800.4 978.8 L801.2 978.7 L801.9 978.3 L802.6 977.8 L803.3 977.3 L804 976.7 L804.7 976.2 L805.4 975.7 L806.2 975.6 L806.9 975.1 L807.6 974.7 L808.3 974.8 L809 974.4 L809.7 973.8 L810.4 973.6 L811.2 973.5 L811.9 973.3 L812.6 972.6 L813.3 972.5 L814 972.3 L814.7 971.8 L815.4 971.3 L816.2 970.9 L816.9 970.9 L817.6 970.5 L818.3 970.3 L819 970.3 L819.7 970.1 L820.4 970 L821.1 969.4 L821.9 968.8 L822.6 968.7 L823.3 968.1 L824 967.8 L824.7 967.4 L825.4 967.3 L826.1 967.2 L826.9 967.1 L827.6 966.8 L828.3 966.8 L829 966.9 L829.7 966.8 L830.4 966.8 L831.1 966.5 L831.9 967 L832.6 966.6 L833.3 966.1 L834 965.9 L834.7 965.9 L835.4 965.6 L836.1 965.3 L836.9 965.3 L837.6 965.2 L838.3 965 L839 964.7 L839.7 964.5 L840.4 964.2 L841.1 964 L841.8 964.1 L842.6 964 L843.3 963.8 L844 963.8 L844.7 963.6 L845.4 963.7 L846.1 963.3 L846.8 963.1 L847.6 963.2 L848.3 962.8 L849 962.7 L849.7 962.8 L850.4 962.3 L851.1 962 L851.8 961.9 L852.6 961.7 L853.3 961.3 L854 961.1 L854.7 961.2 L855.4 961.3 L856.1 961.2 L856.8 961.2 L857.6 961.3 L858.3 960.9 L859 961 L859.7 960.6 L860.4 960.4 L861.1 960.3 L861.8 960.3 L862.5 960.2 L863.3 959.8 L864 959.5 L864.7 959.5 L865.4 959.3 L866.1 958.9 L866.8 958.5 L867.5 958.6 L868.3 958.7 L869 958.7 L869.7 958.7 L870.4 959 L871.1 959.1 L871.8 959.5 L872.5 959.6 L873.3 959.4 L874 959.3 L874.7 958.4 L875.4 958.4 L876.1 957.8 L876.8 957.9 L877.5 957.6 L878.3 957.9 L879 958.2 L879.7 958.3 L880.4 957.8 L881.1 957.4 L881.8 957.5 L882.5 957.3 L883.3 957.2 L884 956.9 L884.7 957.3 L885.4 957.4 L886.1 957.4 L886.8 957.4 L887.5 957.5 L888.2 957.6 L889 957.1 L889.7 956.7 L890.4 956.8 L891.1 956.6 L891.8 956.4 L892.5 956.3 L893.2 956.4 L894 956.5 L894.7 956.2 L895.4 955.9 L896.1 956.1 L896.8 956.2 L897.5 956 L898.2 955.7 L899 955.6 L899.7 955.7 L900.4 955.4 L901.1 955.2 L901.8 955.3 L902.5 955.3 L903.2 955.2 L904 955.2 L904.7 955.1 L905.4 955.4 L906.1 955.2 L906.8 955.1 L907.5 955.3 L908.2 955 L908.9 954.7 L909.7 954.1 L910.4 954.1 L911.1 954.1 L911.8 953.9 L912.5 954 L913.2 954.2 L913.9 954.4 L914.7 954.3 L915.4 954.1 L916.1 954.1 L916.8 954" fill="none" stroke="#ff8000" stroke-width="3.6" stroke-linejoin="round" stroke-linecap="round"/>
<path d="M551.6 869.1 L552.3 869 L553.1 869.2 L553.8 869 L554.5 869 L555.3 869.2 L556 869.4 L556.7 870 L557.5 870.1 L558.2 870.4 L558.9 870.4 L559.7 870.3 L560.4 870.6 L561.1 870.4 L561.8 870.9 L562.6 871.2 L563.3 871.5 L564 871.7 L564.8 871.5 L565.5 871.5 L566.2 871.1 L567 871.2 L567.7 871.2 L568.4 871.6 L569.2 872.1 L569.9 872.3 L570.6 872.6 L571.4 872.5 L572.1 872.6 L572.8 872.5 L573.6 872.3 L574.3 872.2 L575 872.7 L575.8 872.7 L576.5 872.6 L577.2 872.3 L577.9 872.2 L578.7 872.4 L579.4 871.9 L580.1 872.1 L580.9 872.6 L581.6 873.4 L582.3 873.6 L583.1 873.7 L583.8 874 L584.5 874.2 L585.3 874.1 L586 873.8 L586.7 874.4 L587.5 874.6 L588.2 874.7 L588.9 875.1 L589.7 875.4 L590.4 875.7 L591.1 875.7 L591.9 876.1 L592.6 876.4 L593.3 876.3 L594 876.2 L594.8 876.3 L595.5 876.2 L596.2 876.1 L597 876.2 L597.7 876.1 L598.4 876.4 L599.2 876.9 L599.9 877.3 L600.6 877.3 L601.4 877.7 L602.1 878.2 L602.8 878.2 L603.6 878.1 L604.3 878.3 L605 878.9 L605.8 879.1 L606.5 879.5 L607.2 879.7 L608 880 L608.7 880.1 L609.4 880.1 L610.1 879.7 L610.9 879.9 L611.6 880.5 L612.3 880.8 L613.1 881.3 L613.8 881.3 L614.5 881.6 L615.3 881.6 L616 881.9 L616.7 882.4 L617.5 882.4 L618.2 883 L618.9 883.4 L619.7 884 L620.4 884.1 L621.1 884 L621.9 884.4 L622.6 884.2 L623.3 884.3 L624.1 884 L624.8 884.1 L625.5 884.4 L626.3 884.5 L627 884.8 L627.7 885.5 L628.4 885.9 L629.2 886 L629.9 886.4 L630.6 887 L631.4 887.4 L632.1 887 L632.8 887.2 L633.6 887.7 L634.3 887.8 L635 888.1 L635.8 888 L636.5 888.8 L637.2 889.1 L638 889.5 L638.7 889.8 L639.4 890.1 L640.2 890.5 L640.9 890.5 L641.6 890.8 L642.4 890.9 L643.1 891.2 L643.8 891.7 L644.5 892.5 L645.3 893.3 L646 893.8 L646.7 894.3 L647.5 894.9 L648.2 895.5 L648.9 895.8 L649.7 896.4 L650.4 897 L651.1 897.2 L651.9 897.7 L652.6 897.8 L653.3 898.3 L654.1 898.8 L654.8 899.2 L655.5 900 L656.3 900.9 L657 901.5 L657.7 901.8 L658.5 902.3 L659.2 902.9 L659.9 903.4 L660.6 903.8 L661.4 904.8 L662.1 905.3 L662.8 905.9 L663.6 906.6 L664.3 907.2 L665 907.7 L665.8 908 L666.5 909 L667.2 909.5 L668 910.1 L668.7 910.7 L669.4 911.3 L670.2 912 L670.9 912.6 L671.6 913.3 L672.4 913.9 L673.1 914.6 L673.8 915 L674.6 915.6 L675.3 916 L676 916.7 L676.7 917.3 L677.5 917.9 L678.2 918.8 L678.9 919.8 L679.7 920.4 L680.4 921.5 L681.1 922.4 L681.9 923.4 L682.6 924.4 L683.3 925.3 L684.1 926.4 L684.8 927.4 L685.5 928.3 L686.3 929.3 L687 930.4 L687.7 931.3 L688.5 932.5 L689.2 933.5 L689.9 935 L690.7 936.2 L691.4 937.5 L692.1 939 L692.8 940.5 L693.6 942 L694.3 943.6 L695 945.5 L695.8 947.4 L696.5 949.3 L697.2 951.3 L698 953.3 L698.7 955.1 L699.4 956.9 L700.2 958.6 L700.9 960.4 L701.6 962.1 L702.4 964 L703.1 965.7 L703.8 967.8 L704.6 969.8 L705.3 971.6 L706 973.6 L706.8 975.4 L707.5 977.4 L708.2 979.3 L709 981.2 L709.7 983.4 L710.4 985.7 L711.1 988.1 L711.9 990.7 L712.6 993.1 L713.3 995.5 L714.1 997.7 L714.8 999.8 L715.5 1001.9 L716.3 1003.9 L717 1005.8 L717.7 1007.5 L718.5 1009 L719.2 1010.2 L719.9 1011.4 L720.7 1012.6 L721.4 1013.7 L722.1 1015.1 L722.9 1016.7 L723.6 1018.6 L724.3 1020.5 L725.1 1022.3 L725.8 1024 L726.5 1025.6 L727.2 1027 L728 1028.2 L728.7 1029.5 L729.4 1030.6 L730.2 1031.9 L730.9 1032.9 L731.6 1033.9 L732.4 1034.8 L733.1 1035.4 L733.8 1036.1 L734.6 1036 L735.3 1035.4 L736 1035 L736.8 1034 L737.5 1033 L738.2 1031.7 L739 1030.3 L739.7 1029 L740.4 1027.1 L741.2 1025.1 L741.9 1022.8 L742.6 1020.1 L743.3 1017.7 L744.1 1014.9 L744.8 1012.4 L745.5 1010 L746.3 1007.5 L747 1005.2 L747.7 1003.1 L748.5 1001.6 L749.2 999.6 L749.9 997.3 L750.7 995 L751.4 992 L752.1 988.7 L752.9 985.2 L753.6 982.3 L754.3 979.7 L755.1 977.1 L755.8 974.7 L756.5 972.8 L757.3 971.4 L758 970 L758.7 968.9 L759.4 967.3 L760.2 965.8 L760.9 964.3 L761.6 962.3 L762.4 959.9 L763.1 957.4 L763.8 955.2 L764.6 953.1 L765.3 950.9 L766 949 L766.8 947.2 L767.5 945.3 L768.2 943.3 L769 941.2 L769.7 938.9 L770.4 936.5 L771.2 934.8 L771.9 933.2 L772.6 931.9 L773.4 930.7 L774.1 929.6 L774.8 928.4 L775.6 927.4 L776.3 926.5 L777 925.4 L777.7 924.3 L778.5 923.3 L779.2 922.4 L779.9 921.3 L780.7 920.1 L781.4 919.1 L782.1 918.4 L782.9 917.6 L783.6 916.9 L784.3 916 L785.1 915.6 L785.8 915.1 L786.5 914.5 L787.3 913.8 L788 912.9 L788.7 912.3 L789.5 911.2 L790.2 910.6 L790.9 909.6 L791.7 909 L792.4 908.6 L793.1 908.2 L793.8 908 L794.6 907.5 L795.3 907.3 L796 906.7 L796.8 906.2 L797.5 905.6 L798.2 904.9 L799 904.5 L799.7 903.9 L800.4 903.5 L801.2 903 L801.9 902.8 L802.6 902.4 L803.4 901.8 L804.1 901 L804.8 900.5 L805.6 899.8 L806.3 898.6 L807 898.3 L807.8 897.9 L808.5 897.7 L809.2 897.2 L809.9 896.6 L810.7 896.5 L811.4 895.7 L812.1 895.1 L812.9 895 L813.6 894.6 L814.3 894.3 L815.1 893.7 L815.8 893.3 L816.5 892.9 L817.3 892.1 L818 891.5 L818.7 891 L819.5 890.8 L820.2 890.8 L820.9 890.1 L821.7 889.4 L822.4 888.9 L823.1 888.7 L823.9 888.1 L824.6 887.7 L825.3 887.4 L826 887 L826.8 887 L827.5 886.5 L828.2 885.8 L829 885.4 L829.7 885.4 L830.4 885.4 L831.2 885 L831.9 884.3 L832.6 884.2 L833.4 884 L834.1 883.7 L834.8 883.4 L835.6 883.3 L836.3 883.7 L837 883.5 L837.8 883.3 L838.5 883 L839.2 882.8 L840 882.7 L840.7 882.2 L841.4 881.7 L842.1 881.3 L842.9 881.3 L843.6 881.1 L844.3 880.9 L845.1 880.7 L845.8 880.5 L846.5 879.9 L847.3 879.2 L848 879.1 L848.7 878.5 L849.5 878.4 L850.2 878.2 L850.9 878.2 L851.7 877.9 L852.4 877.3 L853.1 877 L853.9 876.7 L854.6 876.3 L855.3 876 L856.1 875.6 L856.8 875.2 L857.5 874.5 L858.3 874.3 L859 873.5 L859.7 873.2 L860.4 873.5 L861.2 873.2 L861.9 872.9 L862.6 872.5 L863.4 872.9 L864.1 872.7 L864.8 872.1 L865.6 872 L866.3 872 L867 872.5 L867.8 872.2 L868.5 872 L869.2 871.7 L870 871.6 L870.7 871.7 L871.4 871.1 L872.2 871.1 L872.9 870.8 L873.6 871 L874.4 870.8 L875.1 870.6 L875.8 870.1 L876.5 869.9 L877.3 870 L878 869.8 L878.7 869.5 L879.5 869.5 L880.2 869.8 L880.9 869.7 L881.7 869.6 L882.4 869.4 L883.1 869.8 L883.9 869.3 L884.6 869.1 L885.3 868.9 L886.1 868.9 L886.8 869.2 L887.5 868.8 L888.3 869.2 L889 869 L889.7 869.7 L890.5 869.8 L891.2 869.7 L891.9 869.4 L892.6 869 L893.4 869.3 L894.1 868.7 L894.8 868.3 L895.6 868 L896.3 867.8 L897 868 L897.8 867.7 L898.5 867.6 L899.2 867.4 L900 867.3 L900.7 867.3 L901.4 867.2 L902.2 867.3 L902.9 867.2 L903.6 867.4 L904.4 867.3 L905.1 866.9 L905.8 866.8 L906.6 866.4 L907.3 866.2 L908 866 L908.7 865.6 L909.5 866 L910.2 865.9 L910.9 866.2 L911.7 866.1 L912.4 865.9 L913.1 866.5 L913.9 866.4 L914.6 866.6 L915.3 866.3 L916.1 866.3 L916.8 866.7" fill="none" stroke="#0000ff" stroke-width="3.6" stroke-linejoin="round" stroke-linecap="round"/>
<line x1="551.5" y1="1152.8" x2="557.5" y2="1152.8" stroke="#000" stroke-width="2.7" stroke-linecap="round"/>
<line x1="551.5" y1="1131.5" x2="564" y2="1131.5" stroke="#000" stroke-width="2.7" stroke-linecap="round"/>
<line x1="551.5" y1="1110.2" x2="557.5" y2="1110.2" stroke="#000" stroke-width="2.7" stroke-linecap="round"/>
<line x1="551.5" y1="1088.8" x2="557.5" y2="1088.8" stroke="#000" stroke-width="2.7" stroke-linecap="round"/>
<line x1="551.5" y1="1067.5" x2="557.5" y2="1067.5" stroke="#000" stroke-width="2.7" stroke-linecap="round"/>
<line x1="551.5" y1="1046.2" x2="564" y2="1046.2" stroke="#000" stroke-width="2.7" stroke-linecap="round"/>
<line x1="551.5" y1="1024.9" x2="557.5" y2="1024.9" stroke="#000" stroke-width="2.7" stroke-linecap="round"/>
<line x1="551.5" y1="1003.5" x2="557.5" y2="1003.5" stroke="#000" stroke-width="2.7" stroke-linecap="round"/>
<line x1="551.5" y1="982.2" x2="557.5" y2="982.2" stroke="#000" stroke-width="2.7" stroke-linecap="round"/>
<line x1="551.5" y1="960.9" x2="564" y2="960.9" stroke="#000" stroke-width="2.7" stroke-linecap="round"/>
<line x1="551.5" y1="939.6" x2="557.5" y2="939.6" stroke="#000" stroke-width="2.7" stroke-linecap="round"/>
<line x1="551.5" y1="918.2" x2="557.5" y2="918.2" stroke="#000" stroke-width="2.7" stroke-linecap="round"/>
<line x1="551.5" y1="896.9" x2="557.5" y2="896.9" stroke="#000" stroke-width="2.7" stroke-linecap="round"/>
<line x1="551.5" y1="875.6" x2="564" y2="875.6" stroke="#000" stroke-width="2.7" stroke-linecap="round"/>
<line x1="551.5" y1="854.3" x2="557.5" y2="854.3" stroke="#000" stroke-width="2.7" stroke-linecap="round"/>
<line x1="551.5" y1="833" x2="557.5" y2="833" stroke="#000" stroke-width="2.7" stroke-linecap="round"/>
<line x1="551.5" y1="811.6" x2="557.5" y2="811.6" stroke="#000" stroke-width="2.7" stroke-linecap="round"/>
<line x1="555.7" y1="1173.5" x2="555.7" y2="1167.5" stroke="#000" stroke-width="2.7" stroke-linecap="round"/>
<line x1="581.2" y1="1173.5" x2="581.2" y2="1161" stroke="#000" stroke-width="2.7" stroke-linecap="round"/>
<line x1="606.7" y1="1173.5" x2="606.7" y2="1167.5" stroke="#000" stroke-width="2.7" stroke-linecap="round"/>
<line x1="632.2" y1="1173.5" x2="632.2" y2="1161" stroke="#000" stroke-width="2.7" stroke-linecap="round"/>
<line x1="657.7" y1="1173.5" x2="657.7" y2="1167.5" stroke="#000" stroke-width="2.7" stroke-linecap="round"/>
<line x1="683.2" y1="1173.5" x2="683.2" y2="1161" stroke="#000" stroke-width="2.7" stroke-linecap="round"/>
<line x1="708.7" y1="1173.5" x2="708.7" y2="1167.5" stroke="#000" stroke-width="2.7" stroke-linecap="round"/>
<line x1="734.2" y1="1173.5" x2="734.2" y2="1161" stroke="#000" stroke-width="2.7" stroke-linecap="round"/>
<line x1="759.7" y1="1173.5" x2="759.7" y2="1167.5" stroke="#000" stroke-width="2.7" stroke-linecap="round"/>
<line x1="785.2" y1="1173.5" x2="785.2" y2="1161" stroke="#000" stroke-width="2.7" stroke-linecap="round"/>
<line x1="810.7" y1="1173.5" x2="810.7" y2="1167.5" stroke="#000" stroke-width="2.7" stroke-linecap="round"/>
<line x1="836.2" y1="1173.5" x2="836.2" y2="1161" stroke="#000" stroke-width="2.7" stroke-linecap="round"/>
<line x1="861.7" y1="1173.5" x2="861.7" y2="1167.5" stroke="#000" stroke-width="2.7" stroke-linecap="round"/>
<line x1="887.2" y1="1173.5" x2="887.2" y2="1161" stroke="#000" stroke-width="2.7" stroke-linecap="round"/>
<line x1="912.7" y1="1173.5" x2="912.7" y2="1167.5" stroke="#000" stroke-width="2.7" stroke-linecap="round"/>
<rect x="550.6" y="808.2" width="367.3" height="366.2" fill="none" stroke="#000" stroke-width="2.7" stroke-linejoin="round"/>
<text transform="translate(525.7 1140.5) scale(0.97 1)" font-size="26.29" stroke="#000">0</text>
<path transform="translate(525.72 1055.2) scale(0.01245 -0.01284)" d="M763 0L583 0L583 1147Q518 1085 412.5 1023Q307 961 223 930L223 1104Q374 1175 487 1276Q600 1377 647 1472L763 1472Z" stroke="#000" stroke-width="33"/>
<text transform="translate(525.7 969.9) scale(0.97 1)" font-size="26.29" stroke="#000">2</text>
<text transform="translate(525.7 884.6) scale(0.97 1)" font-size="26.29" stroke="#000">3</text>
<text transform="translate(561.9 1209.4) scale(0.97 1)" font-size="26.29" stroke="#000" letter-spacing="0.4123711340206186">-</text>
<path transform="translate(570.76 1209.4) scale(0.01245 -0.01284)" d="M763 0L583 0L583 1147Q518 1085 412.5 1023Q307 961 223 930L223 1104Q374 1175 487 1276Q600 1377 647 1472L763 1472Z" stroke="#000" stroke-width="33"/>
<text transform="translate(585.3 1209.4) scale(0.97 1)" font-size="26.29" stroke="#000" letter-spacing="0.4123711340206186">5</text>
<text transform="translate(612.9 1209.4) scale(0.97 1)" font-size="26.29" stroke="#000" letter-spacing="0.4123711340206186">-</text>
<path transform="translate(621.76 1209.4) scale(0.01245 -0.01284)" d="M763 0L583 0L583 1147Q518 1085 412.5 1023Q307 961 223 930L223 1104Q374 1175 487 1276Q600 1377 647 1472L763 1472Z" stroke="#000" stroke-width="33"/>
<text transform="translate(636.3 1209.4) scale(0.97 1)" font-size="26.29" stroke="#000" letter-spacing="0.4123711340206186">0</text>
<text transform="translate(671.2 1209.4) scale(0.97 1)" font-size="26.29" stroke="#000" letter-spacing="0.4123711340206186">-5</text>
<text transform="translate(727.7 1209.4) scale(0.97 1)" font-size="26.29" stroke="#000">0</text>
<text transform="translate(778.7 1209.4) scale(0.97 1)" font-size="26.29" stroke="#000">5</text>
<path transform="translate(822.62 1209.4) scale(0.01245 -0.01284)" d="M763 0L583 0L583 1147Q518 1085 412.5 1023Q307 961 223 930L223 1104Q374 1175 487 1276Q600 1377 647 1472L763 1472Z" stroke="#000" stroke-width="33"/>
<text transform="translate(836.8 1209.4) scale(0.97 1)" font-size="26.29" stroke="#000">0</text>
<path transform="translate(873.62 1209.4) scale(0.01245 -0.01284)" d="M763 0L583 0L583 1147Q518 1085 412.5 1023Q307 961 223 930L223 1104Q374 1175 487 1276Q600 1377 647 1472L763 1472Z" stroke="#000" stroke-width="33"/>
<text transform="translate(887.8 1209.4) scale(0.97 1)" font-size="26.29" stroke="#000">5</text>
<text transform="translate(568 1260) scale(1.035 1)" font-size="30.92" stroke="#000">Magnetic field, <tspan font-style="italic" dx="4.9">B</tspan><tspan font-size="18.8" dy="13.4">F</tspan><tspan dy="-13.4"> (mT)</tspan></text>
<text transform="translate(502 1000.4) rotate(-90) scale(0.954 1)" font-size="33.5" text-anchor="middle" stroke="#000">Kerr rotation (arb. units)</text>
<text transform="translate(569.5 843.2) scale(1.055 1)" font-size="34.50" text-anchor="start" fill="#000" stroke="#000">(c)</text>
<text transform="translate(765.5 850.7) scale(1.035 1)" font-size="27.97" stroke="#000"><tspan font-style="italic">f</tspan><tspan font-size="17.4" dy="12.6">m</tspan><tspan dy="-12.6"> = 75 kHz</tspan></text>
<path transform="translate(805.31 937) scale(0.01416 -0.01368)" d="M763 0L583 0L583 1147Q518 1085 412.5 1023Q307 961 223 930L223 1104Q374 1175 487 1276Q600 1377 647 1472L763 1472Z" stroke="#000" stroke-width="31"/>
<text transform="translate(821.4 937) scale(1.035 1)" font-size="28.02" stroke="#000">50 kHz</text>
<text transform="translate(911.7 999.2) scale(1.035 1)" font-size="28.02" text-anchor="end" fill="#000" stroke="#000">200 kHz</text>
<text transform="translate(911.7 1082) scale(1.035 1)" font-size="28.02" text-anchor="end" fill="#000" stroke="#000">250 kHz</text>
<text transform="translate(685.6 920) scale(1.035 1)" font-size="28.02" text-anchor="start" fill="#000" stroke="#000">3.8 mT</text>
<line x1="712" y1="942.7" x2="753" y2="942.7" stroke="#000" stroke-width="1.3"/>
<polygon points="702.6,942.7 720.5,936.4 716.1,942.7 720.5,949" fill="#000"/>
<polygon points="762.2,942.7 744.3,949 748.7,942.7 744.3,936.4" fill="#000"/>
</svg>
</body></html>
